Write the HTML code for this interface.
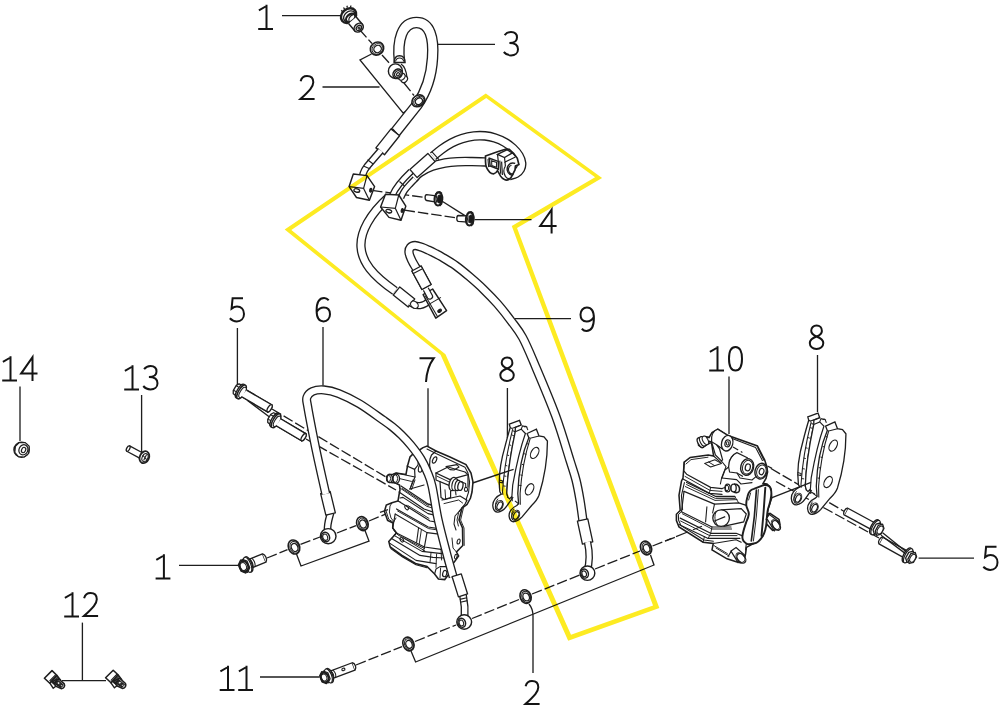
<!DOCTYPE html><html><head><meta charset="utf-8"><title>Brake hose &amp; caliper diagram</title>
<style>html,body{margin:0;padding:0;background:#fff;font-family:"Liberation Sans",sans-serif}svg{display:block}</style></head><body>
<svg width="1000" height="709" viewBox="0 0 1000 709">
<rect width="1000" height="709" fill="#fff"/>
<path d="M359.5,29.5 L372,43.5" fill="none" stroke="#1e1e1e" stroke-width="1.32" stroke-dasharray="10.5 3" />
<path d="M382,55 L391,65" fill="none" stroke="#1e1e1e" stroke-width="1.32" stroke-dasharray="10.5 3" />
<path d="M404,83 L414,95.5" fill="none" stroke="#1e1e1e" stroke-width="1.32" stroke-dasharray="10.5 3" />
<path d="M371.5,54 L360,60 L403,113 L413.5,106.5" fill="none" stroke="#1e1e1e" stroke-width="1.32" />
<path d="M322.5,87 L379.5,87" fill="none" stroke="#1e1e1e" stroke-width="1.32" />
<path d="M282,15.6 L341,15.6" fill="none" stroke="#1e1e1e" stroke-width="1.32" />
<path d="M438,44.4 L495,44.4" fill="none" stroke="#1e1e1e" stroke-width="1.32" />
<path d="M474.6,219.6 L531.5,219.6" fill="none" stroke="#1e1e1e" stroke-width="1.32" />
<path d="M442.2,201.2 L465.7,216.1" fill="none" stroke="#1e1e1e" stroke-width="1.32" />
<path d="M372,190.4 L426,197.6" fill="none" stroke="#1e1e1e" stroke-width="1.32" stroke-dasharray="10.5 3" />
<path d="M404.5,210.2 L457,218" fill="none" stroke="#1e1e1e" stroke-width="1.32" stroke-dasharray="10.5 3" />
<path d="M237.4,328 L237.4,386" fill="none" stroke="#1e1e1e" stroke-width="1.32" />
<path d="M323,327 L323,385.5" fill="none" stroke="#1e1e1e" stroke-width="1.32" />
<path d="M428,388.3 L428,447" fill="none" stroke="#1e1e1e" stroke-width="1.32" />
<path d="M507.4,388 L507.4,438" fill="none" stroke="#1e1e1e" stroke-width="1.32" />
<path d="M515,318.6 L571,318.6" fill="none" stroke="#1e1e1e" stroke-width="1.32" />
<path d="M729,376.4 L729,434" fill="none" stroke="#1e1e1e" stroke-width="1.32" />
<path d="M817.5,355 L817.5,412" fill="none" stroke="#1e1e1e" stroke-width="1.32" />
<path d="M20,386.4 L20,441" fill="none" stroke="#1e1e1e" stroke-width="1.32" />
<path d="M141.6,395 L141.6,452" fill="none" stroke="#1e1e1e" stroke-width="1.32" />
<path d="M82.4,622.6 L82.4,680.6" fill="none" stroke="#1e1e1e" stroke-width="1.32" />
<path d="M62,680.6 L106,680.6" fill="none" stroke="#1e1e1e" stroke-width="1.32" />
<path d="M179,565.4 L239,565.4" fill="none" stroke="#1e1e1e" stroke-width="1.32" />
<path d="M260,677 L319.4,677" fill="none" stroke="#1e1e1e" stroke-width="1.32" />
<path d="M918.6,558.2 L974,558.2" fill="none" stroke="#1e1e1e" stroke-width="1.32" />
<path d="M529,604 C531.5,607 533,611 533,616 L533,673" fill="none" stroke="#1e1e1e" stroke-width="1.32" />
<path d="M356,665 L402,646.6" fill="none" stroke="#1e1e1e" stroke-width="1.32" stroke-dasharray="10.5 3" />
<path d="M415,641.5 L456,625" fill="none" stroke="#1e1e1e" stroke-width="1.32" stroke-dasharray="10.5 3" />
<path d="M472,618.5 L519,599.5" fill="none" stroke="#1e1e1e" stroke-width="1.32" stroke-dasharray="10.5 3" />
<path d="M532,594 L580,575" fill="none" stroke="#1e1e1e" stroke-width="1.32" stroke-dasharray="10.5 3" />
<path d="M595,569 L640,551" fill="none" stroke="#1e1e1e" stroke-width="1.32" stroke-dasharray="10.5 3" />
<path d="M652.5,546 L677,536.5" fill="none" stroke="#1e1e1e" stroke-width="1.32" stroke-dasharray="10.5 3" />
<path d="M411,651 L415.6,662 L654,565 L650.5,555" fill="none" stroke="#1e1e1e" stroke-width="1.32" />
<path d="M267,558 L287.5,549.6" fill="none" stroke="#1e1e1e" stroke-width="1.32" stroke-dasharray="10.5 3" />
<path d="M300.5,544.3 L320,537" fill="none" stroke="#1e1e1e" stroke-width="1.32" stroke-dasharray="10.5 3" />
<path d="M337,533 L356,525.6" fill="none" stroke="#1e1e1e" stroke-width="1.32" stroke-dasharray="10.5 3" />
<path d="M369,521 L389,512.6" fill="none" stroke="#1e1e1e" stroke-width="1.32" stroke-dasharray="10.5 3" />
<path d="M296.5,554 L301,566 L369,541 L365,530.5" fill="none" stroke="#1e1e1e" stroke-width="1.32" />
<path d="M272,409 L386,477" fill="none" stroke="#1e1e1e" stroke-width="1.32" stroke-dasharray="10.5 3" />
<path d="M306,439 L396,490" fill="none" stroke="#1e1e1e" stroke-width="1.32" stroke-dasharray="10.5 3" />
<path d="M247.5,400.5 L269.5,417" fill="none" stroke="#1e1e1e" stroke-width="1.32" />
<path d="M771,468.5 L844.7,511.7" fill="none" stroke="#1e1e1e" stroke-width="1.32" stroke-dasharray="10.5 3" />
<path d="M776,481.5 L879,538" fill="none" stroke="#1e1e1e" stroke-width="1.32" stroke-dasharray="10.5 3" />
<path d="M399.5,62 C397,40 402,22.5 416.5,22.5 C430,22.5 434,38 432.5,58 C431.5,76 426,92 417,105 L395.3,132.3" fill="none" stroke="#1e1e1e" stroke-width="11.52" stroke-linecap="butt" stroke-linejoin="round"/>
<path d="M399.5,62 C397,40 402,22.5 416.5,22.5 C430,22.5 434,38 432.5,58 C431.5,76 426,92 417,105 L395.3,132.3" fill="none" stroke="#fff" stroke-width="8.879999999999999" stroke-linecap="butt" stroke-linejoin="round"/>
<path d="M392.2,128.8 L398.5,135.8" fill="none" stroke="#1e1e1e" stroke-width="1.92" />
<path d="M390.99,128.88 L375.89,147.88 L384.51,154.72 L399.61,135.72 Z" fill="#fff" stroke="#1e1e1e" stroke-width="1.32" stroke-linejoin="round"/>
<path d="M380.8,150.5 L367,166.5 C363.5,171 362,175 361.8,181" fill="none" stroke="#1e1e1e" stroke-width="7.5200000000000005" stroke-linecap="butt" stroke-linejoin="round"/>
<path d="M380.8,150.5 L367,166.5 C363.5,171 362,175 361.8,181" fill="none" stroke="#fff" stroke-width="4.88" stroke-linecap="butt" stroke-linejoin="round"/>
<path d="M367.5,159.8 L373.2,164" fill="none" stroke="#1e1e1e" stroke-width="1.08" />
<path d="M364,166.2 L370.3,169" fill="none" stroke="#1e1e1e" stroke-width="1.08" />
<path d="M401.00,197.40 C401.60,196.27 403.03,192.87 404.60,190.60 C406.17,188.33 408.33,186.07 410.40,183.80 C412.47,181.53 415.90,178.13 417.00,177.00" fill="none" stroke="#1e1e1e" stroke-width="6.92" stroke-linecap="butt" stroke-linejoin="round"/>
<path d="M401.00,197.40 C401.60,196.27 403.03,192.87 404.60,190.60 C406.17,188.33 408.33,186.07 410.40,183.80 C412.47,181.53 415.90,178.13 417.00,177.00" fill="none" stroke="#fff" stroke-width="4.279999999999999" stroke-linecap="butt" stroke-linejoin="round"/>
<path d="M414.00,178.00 C415.00,177.07 417.00,174.33 420.00,172.40 C423.00,170.47 427.83,167.97 432.00,166.40 C436.17,164.83 440.75,163.78 445.00,163.00 C449.25,162.22 453.00,161.93 457.50,161.70 C462.00,161.47 467.00,161.55 472.00,161.60 C477.00,161.65 484.92,161.93 487.50,162.00" fill="none" stroke="#1e1e1e" stroke-width="9.52" stroke-linecap="butt" stroke-linejoin="round"/>
<path d="M414.00,178.00 C415.00,177.07 417.00,174.33 420.00,172.40 C423.00,170.47 427.83,167.97 432.00,166.40 C436.17,164.83 440.75,163.78 445.00,163.00 C449.25,162.22 453.00,161.93 457.50,161.70 C462.00,161.47 467.00,161.55 472.00,161.60 C477.00,161.65 484.92,161.93 487.50,162.00" fill="none" stroke="#fff" stroke-width="6.879999999999999" stroke-linecap="butt" stroke-linejoin="round"/>
<path d="M392.5,195 C395,189 400,182 411,171.5" fill="none" stroke="#1e1e1e" stroke-width="6.92" stroke-linecap="butt" stroke-linejoin="round"/>
<path d="M392.5,195 C395,189 400,182 411,171.5" fill="none" stroke="#fff" stroke-width="4.279999999999999" stroke-linecap="butt" stroke-linejoin="round"/>
<path d="M399.5,181.5 L404.5,186" fill="none" stroke="#1e1e1e" stroke-width="1.08" />
<path d="M433.00,156.30 C434.42,155.15 438.42,151.62 441.50,149.40 C444.58,147.18 448.08,144.80 451.50,143.00 C454.92,141.20 458.25,139.77 462.00,138.60 C465.75,137.43 470.17,136.45 474.00,136.00 C477.83,135.55 481.50,135.57 485.00,135.90 C488.50,136.23 491.67,136.92 495.00,138.00 C498.33,139.08 502.00,140.67 505.00,142.40 C508.00,144.13 510.67,146.20 513.00,148.40 C515.33,150.60 517.57,153.17 519.00,155.60 C520.43,158.03 521.37,160.77 521.60,163.00 C521.83,165.23 521.33,167.27 520.40,169.00 C519.47,170.73 517.90,172.30 516.00,173.40 C514.10,174.50 510.17,175.23 509.00,175.60" fill="none" stroke="#1e1e1e" stroke-width="9.620000000000001" stroke-linecap="butt" stroke-linejoin="round"/>
<path d="M433.00,156.30 C434.42,155.15 438.42,151.62 441.50,149.40 C444.58,147.18 448.08,144.80 451.50,143.00 C454.92,141.20 458.25,139.77 462.00,138.60 C465.75,137.43 470.17,136.45 474.00,136.00 C477.83,135.55 481.50,135.57 485.00,135.90 C488.50,136.23 491.67,136.92 495.00,138.00 C498.33,139.08 502.00,140.67 505.00,142.40 C508.00,144.13 510.67,146.20 513.00,148.40 C515.33,150.60 517.57,153.17 519.00,155.60 C520.43,158.03 521.37,160.77 521.60,163.00 C521.83,165.23 521.33,167.27 520.40,169.00 C519.47,170.73 517.90,172.30 516.00,173.40 C514.10,174.50 510.17,175.23 509.00,175.60" fill="none" stroke="#fff" stroke-width="6.98" stroke-linecap="butt" stroke-linejoin="round"/>
<path d="M417.15,177.61 L435.15,161.61 L427.85,153.39 L409.85,169.39 Z" fill="#fff" stroke="#1e1e1e" stroke-width="1.32" stroke-linejoin="round"/>
<path d="M431.8,151.6 L439,159.6" fill="none" stroke="#1e1e1e" stroke-width="1.08" />
<path d="M389,197 C370,214 360,232 361,247 C362,262 372,275 395,291" fill="none" stroke="#1e1e1e" stroke-width="9.32" stroke-linecap="butt" stroke-linejoin="round"/>
<path d="M389,197 C370,214 360,232 361,247 C362,262 372,275 395,291" fill="none" stroke="#fff" stroke-width="6.68" stroke-linecap="butt" stroke-linejoin="round"/>
<path d="M393.22,295.10 L408.22,307.10 L414.78,298.90 L399.78,286.90 Z" fill="#fff" stroke="#1e1e1e" stroke-width="1.32" stroke-linejoin="round"/>
<path d="M410.5,302.5 C416,307.5 424,306.5 430,300" fill="none" stroke="#1e1e1e" stroke-width="7.32" stroke-linecap="butt" stroke-linejoin="round"/>
<path d="M410.5,302.5 C416,307.5 424,306.5 430,300" fill="none" stroke="#fff" stroke-width="4.68" stroke-linecap="butt" stroke-linejoin="round"/>
<ellipse cx="414.4" cy="304.8" rx="3.2" ry="4.2" transform="rotate(-50 414.4 304.8)" fill="#fff" stroke="#1e1e1e" stroke-width="1.20"/>
<path d="M431.12,284.50 L421.12,266.00 L411.88,271.00 L421.88,289.50 Z" fill="#fff" stroke="#1e1e1e" stroke-width="1.32" stroke-linejoin="round"/>
<path d="M412.2,272.6 L421.2,267.8" fill="none" stroke="#1e1e1e" stroke-width="1.08" />
<path d="M416.80,269.20 C415.93,267.67 412.90,262.80 411.60,260.00 C410.30,257.20 409.20,254.50 409.00,252.40 C408.80,250.30 409.40,248.55 410.40,247.40 C411.40,246.25 413.15,245.53 415.00,245.50 C416.85,245.47 419.27,246.43 421.50,247.20 C423.73,247.97 426.15,249.08 428.40,250.10 C430.65,251.12 432.75,252.15 435.00,253.30 C437.25,254.45 438.45,254.95 441.90,257.00 C445.35,259.05 451.08,262.30 455.70,265.60 C460.32,268.90 464.97,272.85 469.60,276.80 C474.23,280.75 478.87,284.80 483.50,289.30 C488.13,293.80 492.77,298.48 497.40,303.80 C502.03,309.12 507.12,315.60 511.30,321.20 C515.48,326.80 518.67,330.35 522.50,337.40 C526.33,344.45 528.77,350.42 534.30,363.50 C539.83,376.58 549.72,399.63 555.70,415.90 C561.68,432.17 566.82,450.42 570.20,461.10 C573.58,471.78 574.37,473.52 576.00,480.00 C577.63,486.48 578.83,493.17 580.00,500.00 C581.17,506.83 582.50,517.50 583.00,521.00" fill="none" stroke="#1e1e1e" stroke-width="9.32" stroke-linecap="butt" stroke-linejoin="round"/>
<path d="M416.80,269.20 C415.93,267.67 412.90,262.80 411.60,260.00 C410.30,257.20 409.20,254.50 409.00,252.40 C408.80,250.30 409.40,248.55 410.40,247.40 C411.40,246.25 413.15,245.53 415.00,245.50 C416.85,245.47 419.27,246.43 421.50,247.20 C423.73,247.97 426.15,249.08 428.40,250.10 C430.65,251.12 432.75,252.15 435.00,253.30 C437.25,254.45 438.45,254.95 441.90,257.00 C445.35,259.05 451.08,262.30 455.70,265.60 C460.32,268.90 464.97,272.85 469.60,276.80 C474.23,280.75 478.87,284.80 483.50,289.30 C488.13,293.80 492.77,298.48 497.40,303.80 C502.03,309.12 507.12,315.60 511.30,321.20 C515.48,326.80 518.67,330.35 522.50,337.40 C526.33,344.45 528.77,350.42 534.30,363.50 C539.83,376.58 549.72,399.63 555.70,415.90 C561.68,432.17 566.82,450.42 570.20,461.10 C573.58,471.78 574.37,473.52 576.00,480.00 C577.63,486.48 578.83,493.17 580.00,500.00 C581.17,506.83 582.50,517.50 583.00,521.00" fill="none" stroke="#fff" stroke-width="6.68" stroke-linecap="butt" stroke-linejoin="round"/>
<path d="M577.42,521.13 L582.42,544.13 L592.78,541.87 L587.78,518.87 Z" fill="#fff" stroke="#1e1e1e" stroke-width="1.32" stroke-linejoin="round"/>
<path d="M587.5,542 C590,553 590,562 587,572" fill="none" stroke="#1e1e1e" stroke-width="7.5200000000000005" stroke-linecap="butt" stroke-linejoin="round"/>
<path d="M587.5,542 C590,553 590,562 587,572" fill="none" stroke="#fff" stroke-width="4.88" stroke-linecap="butt" stroke-linejoin="round"/>
<path d="M423,447.6 L427,446 L436,451 L450,457 L466,464.5 L471,473 L473,482 L472,492 L470.5,498 L467,504.5 L462,508 L459,520 L462.5,528 L462.8,545.5 L456.5,552 L458.6,556 L455,561 L449.5,568 L449,574 L444.7,579.6 L438.4,579 L434.6,574 L427,566.5 L415.5,563.5 L402,555.5 L390.2,547 L388.8,541.5 L396.5,533 L392.7,528 L393,523 L387.6,520.4 L384.4,511.5 L386.3,505 L392,502.8 L398,501 L399,495 L400,490 L399.5,485 L396,483.2 L393,482.6 L389,482.2 L386.8,480 L386.6,476.6 L389,474.4 L393,474.2 L396,473 L406,474.4 L407.5,466 L410,457 L413.5,453.4 L418,451 Z" fill="#fff" stroke="#1e1e1e" stroke-width="1.56" />
<path d="M427,449 L436,453.6 L465,467.2 L468,473 L469.6,482 L468.6,492 L466,500" fill="none" stroke="#1e1e1e" stroke-width="1.08" stroke-linejoin="round" stroke-linecap="round"/>
<path d="M436,451 L431.5,455 L430,459 L429.6,465 L430.4,470" fill="none" stroke="#1e1e1e" stroke-width="1.20" stroke-linejoin="round" stroke-linecap="round"/>
<ellipse cx="434.6" cy="460" rx="1.8" ry="3.4" transform="rotate(25 434.6 460)" fill="none" stroke="#1e1e1e" stroke-width="1.20"/>
<path d="M436,473 L448,467 L465,472 L468,474.6 L468,487" fill="none" stroke="#1e1e1e" stroke-width="1.20" stroke-linejoin="round" stroke-linecap="round"/>
<path d="M436,473 L450,479.6 L468,474.6" fill="none" stroke="#1e1e1e" stroke-width="1.20" stroke-linejoin="round" stroke-linecap="round"/>
<path d="M436,473 L436,480 L449,485.4" fill="none" stroke="#1e1e1e" stroke-width="1.20" stroke-linejoin="round" stroke-linecap="round"/>
<path d="M437,476.2 L450,482.4" fill="none" stroke="#1e1e1e" stroke-width="0.96" stroke-linejoin="round" stroke-linecap="round"/>
<path d="M446,466.6 L457,464.6 L459,467 L454,470 L450,469.6 Z" fill="none" stroke="#1e1e1e" stroke-width="1.08" stroke-linejoin="round" stroke-linecap="round"/>
<ellipse cx="452.8" cy="484" rx="3.6" ry="6.8" transform="rotate(12 452.8 484)" fill="#fff" stroke="#1e1e1e" stroke-width="1.32"/>
<ellipse cx="455.2" cy="484.8" rx="3.2" ry="6.0" transform="rotate(12 455.2 484.8)" fill="#fff" stroke="#1e1e1e" stroke-width="1.20"/>
<ellipse cx="457.8" cy="485.5" rx="2.8" ry="5.2" transform="rotate(12 457.8 485.5)" fill="#fff" stroke="#1e1e1e" stroke-width="1.20"/>
<ellipse cx="460.4" cy="486" rx="2.5" ry="4.5" transform="rotate(12 460.4 486)" fill="#fff" stroke="#1e1e1e" stroke-width="1.32"/>
<path d="M461.5,482 L465.6,483.4 L465.8,487.4" fill="none" stroke="#1e1e1e" stroke-width="1.08" stroke-linejoin="round" stroke-linecap="round"/>
<ellipse cx="466" cy="489.4" rx="1.6" ry="2.0" transform="rotate(0 466 489.4)" fill="none" stroke="#1e1e1e" stroke-width="1.08"/>
<path d="M440,481.6 L441,497.4 L444,499.6 L450.6,497.6 L450.6,491" fill="none" stroke="#1e1e1e" stroke-width="1.20" stroke-linejoin="round" stroke-linecap="round"/>
<path d="M445,489.8 L445.6,498.6" fill="none" stroke="#1e1e1e" stroke-width="0.96" stroke-linejoin="round" stroke-linecap="round"/>
<path d="M455.6,491.6 L456,495" fill="none" stroke="#1e1e1e" stroke-width="1.08" stroke-linejoin="round" stroke-linecap="round"/>
<path d="M442,500 L460,496 L467,500.2 L465,504 L459.4,511" fill="none" stroke="#1e1e1e" stroke-width="1.20" stroke-linejoin="round" stroke-linecap="round"/>
<path d="M444,503.6 L458.6,500 L462.6,503" fill="none" stroke="#1e1e1e" stroke-width="0.96" stroke-linejoin="round" stroke-linecap="round"/>
<path d="M459.4,511 L455,516 L454,524 L456,530" fill="none" stroke="#1e1e1e" stroke-width="1.08" stroke-linejoin="round" stroke-linecap="round"/>
<path d="M462,508 L458.6,512.6 L457,520 L458.4,526" fill="none" stroke="#1e1e1e" stroke-width="0.96" stroke-linejoin="round" stroke-linecap="round"/>
<ellipse cx="458.6" cy="541.5" rx="1.4" ry="2.6" transform="rotate(15 458.6 541.5)" fill="none" stroke="#1e1e1e" stroke-width="1.08"/>
<path d="M456.5,552 L453,548 L452,538" fill="none" stroke="#1e1e1e" stroke-width="0.96" stroke-linejoin="round" stroke-linecap="round"/>
<ellipse cx="455.8" cy="556.6" rx="1.2" ry="2.4" transform="rotate(15 455.8 556.6)" fill="none" stroke="#1e1e1e" stroke-width="1.08"/>
<path d="M407,466 L414.6,469.4 L418,465 L418.6,458.6 L416.4,454.6" fill="none" stroke="#1e1e1e" stroke-width="1.20" stroke-linejoin="round" stroke-linecap="round"/>
<path d="M414.6,469.4 L415,477 L410,489" fill="none" stroke="#1e1e1e" stroke-width="1.20" stroke-linejoin="round" stroke-linecap="round"/>
<ellipse cx="420.4" cy="468.6" rx="2.0" ry="3.6" transform="rotate(10 420.4 468.6)" fill="none" stroke="#1e1e1e" stroke-width="1.08"/>
<path d="M396,473 L415,477" fill="none" stroke="#1e1e1e" stroke-width="1.20" stroke-linejoin="round" stroke-linecap="round"/>
<path d="M399.6,478.6 L411.4,481.4" fill="none" stroke="#1e1e1e" stroke-width="0.96" stroke-linejoin="round" stroke-linecap="round"/>
<path d="M410,489 L424,485" fill="none" stroke="#1e1e1e" stroke-width="1.20" stroke-linejoin="round" stroke-linecap="round"/>
<path d="M410,489 L413.2,479.6" fill="none" stroke="#1e1e1e" stroke-width="0.96" stroke-linejoin="round" stroke-linecap="round"/>
<path d="M411.6,489.6 L415,480" fill="none" stroke="#1e1e1e" stroke-width="0.96" stroke-linejoin="round" stroke-linecap="round"/>
<ellipse cx="396.2" cy="478.6" rx="3.3" ry="4.6" transform="rotate(0 396.2 478.6)" fill="#fff" stroke="#1e1e1e" stroke-width="1.32"/>
<ellipse cx="395.2" cy="478.6" rx="2.4" ry="3.8" transform="rotate(0 395.2 478.6)" fill="none" stroke="#1e1e1e" stroke-width="0.96"/>
<ellipse cx="389.6" cy="478.5" rx="2.8" ry="4.0" transform="rotate(0 389.6 478.5)" fill="#fff" stroke="#1e1e1e" stroke-width="1.32"/>
<ellipse cx="388.8" cy="478.5" rx="1.8" ry="3.0" transform="rotate(0 388.8 478.5)" fill="none" stroke="#1e1e1e" stroke-width="0.96"/>
<path d="M401,486 L428,504 L436,506.5" fill="none" stroke="#1e1e1e" stroke-width="1.32" stroke-linejoin="round" stroke-linecap="round"/>
<path d="M400.6,488.4 L427,506.4 L436,509" fill="none" stroke="#1e1e1e" stroke-width="0.96" stroke-linejoin="round" stroke-linecap="round"/>
<path d="M399,492 L424,509 L434,512.4" fill="none" stroke="#1e1e1e" stroke-width="1.20" stroke-linejoin="round" stroke-linecap="round"/>
<path d="M400,498 L403,497.4 L428,513.6 L437,515.6" fill="none" stroke="#1e1e1e" stroke-width="1.08" stroke-linejoin="round" stroke-linecap="round"/>
<path d="M398,501 L400.6,502.4 L430,521 L438,522.4" fill="none" stroke="#1e1e1e" stroke-width="1.20" stroke-linejoin="round" stroke-linecap="round"/>
<path d="M396.5,509 L428.2,527 L440,528.8" fill="none" stroke="#1e1e1e" stroke-width="1.20" stroke-linejoin="round" stroke-linecap="round"/>
<path d="M395.2,514 L427,532.6 L441,534.4" fill="none" stroke="#1e1e1e" stroke-width="1.08" stroke-linejoin="round" stroke-linecap="round"/>
<ellipse cx="406.6" cy="507.6" rx="1.5" ry="2.4" transform="rotate(-30 406.6 507.6)" fill="none" stroke="#1e1e1e" stroke-width="1.08"/>
<path d="M408,505.6 L429,518.4" fill="none" stroke="#1e1e1e" stroke-width="0.96" stroke-linejoin="round" stroke-linecap="round"/>
<path d="M395.2,514 L392.7,528" fill="none" stroke="#1e1e1e" stroke-width="1.20" stroke-linejoin="round" stroke-linecap="round"/>
<path d="M418.6,527.6 L416.6,542.4" fill="none" stroke="#1e1e1e" stroke-width="1.08" stroke-linejoin="round" stroke-linecap="round"/>
<path d="M427,532.6 L424.4,547" fill="none" stroke="#1e1e1e" stroke-width="1.20" stroke-linejoin="round" stroke-linecap="round"/>
<path d="M421.4,529.4 L419.2,544" fill="none" stroke="#1e1e1e" stroke-width="0.96" stroke-linejoin="round" stroke-linecap="round"/>
<path d="M393,523 L396,518" fill="none" stroke="#1e1e1e" stroke-width="0.96" stroke-linejoin="round" stroke-linecap="round"/>
<path d="M392.7,528 L396.5,533 L424.4,547 L441,549.4" fill="none" stroke="#1e1e1e" stroke-width="1.20" stroke-linejoin="round" stroke-linecap="round"/>
<path d="M396.5,533 L394,535.4 L422,551.4 L442,553.6" fill="none" stroke="#1e1e1e" stroke-width="1.08" stroke-linejoin="round" stroke-linecap="round"/>
<path d="M391.6,538.4 L420,555.4 L433,557.4 L444,558" fill="none" stroke="#1e1e1e" stroke-width="1.20" stroke-linejoin="round" stroke-linecap="round"/>
<path d="M390,543.4 L416,560.4 L436,563.6" fill="none" stroke="#1e1e1e" stroke-width="1.08" stroke-linejoin="round" stroke-linecap="round"/>
<ellipse cx="401.8" cy="539.8" rx="1.5" ry="2.4" transform="rotate(-30 401.8 539.8)" fill="none" stroke="#1e1e1e" stroke-width="1.08"/>
<path d="M403.4,538 L425,551" fill="none" stroke="#1e1e1e" stroke-width="0.96" stroke-linejoin="round" stroke-linecap="round"/>
<path d="M431,553 L430,562.4" fill="none" stroke="#1e1e1e" stroke-width="0.96" stroke-linejoin="round" stroke-linecap="round"/>
<path d="M424.4,547 L423.4,551.6" fill="none" stroke="#1e1e1e" stroke-width="0.96" stroke-linejoin="round" stroke-linecap="round"/>
<path d="M436.6,554 L436,567.4" fill="none" stroke="#1e1e1e" stroke-width="0.96" stroke-linejoin="round" stroke-linecap="round"/>
<path d="M441,549.4 L441.6,560" fill="none" stroke="#1e1e1e" stroke-width="0.96" stroke-linejoin="round" stroke-linecap="round"/>
<path d="M434.6,574 L436,569 L440,566.6 L446,566.6 L449.5,568" fill="none" stroke="#1e1e1e" stroke-width="1.08" stroke-linejoin="round" stroke-linecap="round"/>
<ellipse cx="444.7" cy="573.6" rx="2.0" ry="3.2" transform="rotate(15 444.7 573.6)" fill="none" stroke="#1e1e1e" stroke-width="1.20"/>
<path d="M440.6,568 L440,577.6" fill="none" stroke="#1e1e1e" stroke-width="0.96" stroke-linejoin="round" stroke-linecap="round"/>
<path d="M392,502.8 L390,506 L389.4,512 L391,518 L393.4,521" fill="none" stroke="#1e1e1e" stroke-width="0.96" stroke-linejoin="round" stroke-linecap="round"/>
<path d="M380,512.4 L388,509.6" fill="none" stroke="#1e1e1e" stroke-width="1.20" />
<g transform="translate(0,0)">
<path d="M807.8,416.8 L818,413.1 L819.7,417.7 L813.8,420.2 L813.8,424.5 C809.6,444 806,466 805.3,486.2 L806.4,490 L811.1,490.5 L805.4,498.6 C803,502 800,504.4 796.6,504.8 C794,505.2 791.6,503 791.3,498.4 C791,493.6 795,489 799.8,486.9 L798.4,484.5 C797,474 798.6,456 803.6,438.8 C805.4,431.6 807.2,425.6 808.7,420.2 Z" fill="#fff" stroke="#1e1e1e" stroke-width="1.32" />
<path d="M808.7,420.2 L810.4,421.1 L819.7,417.7 M811.2,421.9 C806.6,440 802.4,462 801,484.5 L801.4,487.6 M813.8,424.5 L811.6,423.4" fill="none" stroke="#1e1e1e" stroke-width="1.08" />
<path d="M810.2,427.6 l2.2,0.8 M807.6,437.4 l2.2,0.8 M805.4,447.6 l2.2,0.7 M803.6,458 l2.2,0.6 M802.4,468.6 l2.4,0.4 M801.6,478.6 l2.6,0.3" fill="none" stroke="#1e1e1e" stroke-width="0.96" />
<path d="M797.6,472.6 l3.6,1 l-0.3,2 l-3.5,-0.8" fill="none" stroke="#1e1e1e" stroke-width="1.08" />
<path d="M796.6,491.4 C793.8,494.6 793.2,499.2 795,502.8" fill="none" stroke="#1e1e1e" stroke-width="0.96" />
<ellipse cx="798.2" cy="498.4" rx="2.4" ry="4.0" transform="rotate(25 798.2 498.4)" fill="#fff" stroke="#1e1e1e" stroke-width="1.20"/>
<ellipse cx="797.8" cy="498.2" rx="3.6" ry="5.3" transform="rotate(25 797.8 498.2)" fill="none" stroke="#1e1e1e" stroke-width="0.96"/>
<path d="M813.8,424.5 L819.7,421.9 L823.9,426.2 C819,440 814.4,460 811.2,477.8 L810.4,489 L808,491.6 L806.4,490 L805.3,486.2 C806,466 809.6,444 813.8,424.5 Z" fill="#fff" stroke="#1e1e1e" stroke-width="1.20" />
<path d="M819.7,421.9 L821,418.6 L825,419.4 L826.4,422.8 M822.6,419.8 q1.8,-1.8 3.2,0.4" fill="none" stroke="#1e1e1e" stroke-width="1.08" />
<path d="M825.6,426.2 L834.9,421.9 L837.5,428.7 L842.5,429.5 L845.9,433.8 C846,452 843,470 837.5,487.9 C836,492 833.4,495 830.1,498.2 L820.6,509.6 C818,512.4 815.6,514 812.6,514.4 C810,514.8 808,512.8 807.6,508.8 C807.4,504.6 810.6,500.6 815.3,498.2 L817.1,496.4 L816.3,486.2 C817,466 820.6,446 827.3,430.4 Z" fill="#fff" stroke="#1e1e1e" stroke-width="1.32" />
<path d="M827.3,430.4 L828.7,431 L837.5,428.7 M828.7,431 C823.6,447 820,466 818.6,486.2 L818.8,497.4" fill="none" stroke="#1e1e1e" stroke-width="1.08" />
<path d="M825.6,436.4 l2,0.7 M822.6,446.4 l2.2,0.7 M820.4,457 l2.2,0.6 M818.8,467.6 l2.2,0.5 M817.6,478 l2.4,0.3" fill="none" stroke="#1e1e1e" stroke-width="0.96" />
<ellipse cx="833.2" cy="445.6" rx="3.6" ry="6.0" transform="rotate(28 833.2 445.6)" fill="none" stroke="#1e1e1e" stroke-width="1.20"/>
<ellipse cx="828.1" cy="482" rx="3.6" ry="6.0" transform="rotate(28 828.1 482)" fill="none" stroke="#1e1e1e" stroke-width="1.20"/>
<path d="M812.6,501.6 C810,504.6 809.4,509 811.2,512.6" fill="none" stroke="#1e1e1e" stroke-width="0.96" />
<ellipse cx="814.6" cy="508.2" rx="2.5" ry="4.0" transform="rotate(25 814.6 508.2)" fill="#fff" stroke="#1e1e1e" stroke-width="1.20"/>
<ellipse cx="814.2" cy="508" rx="3.7" ry="5.3" transform="rotate(25 814.2 508)" fill="none" stroke="#1e1e1e" stroke-width="0.96"/>
<path d="M810.4,489 L810.8,494 M813.4,493.6 L817.1,496.4" fill="none" stroke="#1e1e1e" stroke-width="1.08" />
</g>
<g transform="translate(-298.5,7.3)">
<path d="M807.8,416.8 L818,413.1 L819.7,417.7 L813.8,420.2 L813.8,424.5 C809.6,444 806,466 805.3,486.2 L806.4,490 L811.1,490.5 L805.4,498.6 C803,502 800,504.4 796.6,504.8 C794,505.2 791.6,503 791.3,498.4 C791,493.6 795,489 799.8,486.9 L798.4,484.5 C797,474 798.6,456 803.6,438.8 C805.4,431.6 807.2,425.6 808.7,420.2 Z" fill="#fff" stroke="#1e1e1e" stroke-width="1.32" />
<path d="M808.7,420.2 L810.4,421.1 L819.7,417.7 M811.2,421.9 C806.6,440 802.4,462 801,484.5 L801.4,487.6 M813.8,424.5 L811.6,423.4" fill="none" stroke="#1e1e1e" stroke-width="1.08" />
<path d="M810.2,427.6 l2.2,0.8 M807.6,437.4 l2.2,0.8 M805.4,447.6 l2.2,0.7 M803.6,458 l2.2,0.6 M802.4,468.6 l2.4,0.4 M801.6,478.6 l2.6,0.3" fill="none" stroke="#1e1e1e" stroke-width="0.96" />
<path d="M797.6,472.6 l3.6,1 l-0.3,2 l-3.5,-0.8" fill="none" stroke="#1e1e1e" stroke-width="1.08" />
<path d="M796.6,491.4 C793.8,494.6 793.2,499.2 795,502.8" fill="none" stroke="#1e1e1e" stroke-width="0.96" />
<ellipse cx="798.2" cy="498.4" rx="2.4" ry="4.0" transform="rotate(25 798.2 498.4)" fill="#fff" stroke="#1e1e1e" stroke-width="1.20"/>
<ellipse cx="797.8" cy="498.2" rx="3.6" ry="5.3" transform="rotate(25 797.8 498.2)" fill="none" stroke="#1e1e1e" stroke-width="0.96"/>
<path d="M813.8,424.5 L819.7,421.9 L823.9,426.2 C819,440 814.4,460 811.2,477.8 L810.4,489 L808,491.6 L806.4,490 L805.3,486.2 C806,466 809.6,444 813.8,424.5 Z" fill="#fff" stroke="#1e1e1e" stroke-width="1.20" />
<path d="M819.7,421.9 L821,418.6 L825,419.4 L826.4,422.8 M822.6,419.8 q1.8,-1.8 3.2,0.4" fill="none" stroke="#1e1e1e" stroke-width="1.08" />
<path d="M825.6,426.2 L834.9,421.9 L837.5,428.7 L842.5,429.5 L845.9,433.8 C846,452 843,470 837.5,487.9 C836,492 833.4,495 830.1,498.2 L820.6,509.6 C818,512.4 815.6,514 812.6,514.4 C810,514.8 808,512.8 807.6,508.8 C807.4,504.6 810.6,500.6 815.3,498.2 L817.1,496.4 L816.3,486.2 C817,466 820.6,446 827.3,430.4 Z" fill="#fff" stroke="#1e1e1e" stroke-width="1.32" />
<path d="M827.3,430.4 L828.7,431 L837.5,428.7 M828.7,431 C823.6,447 820,466 818.6,486.2 L818.8,497.4" fill="none" stroke="#1e1e1e" stroke-width="1.08" />
<path d="M825.6,436.4 l2,0.7 M822.6,446.4 l2.2,0.7 M820.4,457 l2.2,0.6 M818.8,467.6 l2.2,0.5 M817.6,478 l2.4,0.3" fill="none" stroke="#1e1e1e" stroke-width="0.96" />
<ellipse cx="833.2" cy="445.6" rx="3.6" ry="6.0" transform="rotate(28 833.2 445.6)" fill="none" stroke="#1e1e1e" stroke-width="1.20"/>
<ellipse cx="828.1" cy="482" rx="3.6" ry="6.0" transform="rotate(28 828.1 482)" fill="none" stroke="#1e1e1e" stroke-width="1.20"/>
<path d="M812.6,501.6 C810,504.6 809.4,509 811.2,512.6" fill="none" stroke="#1e1e1e" stroke-width="0.96" />
<ellipse cx="814.6" cy="508.2" rx="2.5" ry="4.0" transform="rotate(25 814.6 508.2)" fill="#fff" stroke="#1e1e1e" stroke-width="1.20"/>
<ellipse cx="814.2" cy="508" rx="3.7" ry="5.3" transform="rotate(25 814.2 508)" fill="none" stroke="#1e1e1e" stroke-width="0.96"/>
<path d="M810.4,489 L810.8,494 M813.4,493.6 L817.1,496.4" fill="none" stroke="#1e1e1e" stroke-width="1.08" />
</g>
<path d="M684.2,462.2 L690.2,457.4 L708.2,455 L713.6,456 L711.4,442 L709.6,441.4 L706,445 L702,447.6 L698.6,445.4 L698.4,440 L701,437 L705.4,436.6 L709,437.6 L712,432.6 L717.8,429.2 L727.4,435.2 L757.4,446 L764.6,459.8 L766.6,466 L767.6,472 L766,478.4 L763,483.6 L767,484 L770.8,488.6 L771.7,497.8 L768,509 L767.2,514 L770,513.4 L779,519.4 L780,524.4 L777,529.4 L772.6,530.4 L766,523.4 L762.8,535.9 L757,541.6 L746.4,547.4 L745.6,553.6 L744.4,559.6 L741,563 L737,562 L727,558.8 L712,549.8 L713.3,543.5 L703.1,542.2 L679,527 L676.4,520.6 L676.4,514.3 L680.2,510.5 L679,495.2 L681.5,481 L683,478 L683.6,470.6 Z" fill="#fff" stroke="#1e1e1e" stroke-width="1.56" />
<ellipse cx="700.8" cy="442.6" rx="2.8" ry="5.4" transform="rotate(-28 700.8 442.6)" fill="#fff" stroke="#1e1e1e" stroke-width="1.32"/>
<ellipse cx="703" cy="441.4" rx="2.8" ry="5.2" transform="rotate(-28 703 441.4)" fill="#fff" stroke="#1e1e1e" stroke-width="1.08"/>
<path d="M702,436.6 L709,437.4" fill="none" stroke="#1e1e1e" stroke-width="1.08" stroke-linejoin="round" stroke-linecap="round"/>
<path d="M704.6,446 L711.6,442.6" fill="none" stroke="#1e1e1e" stroke-width="1.08" stroke-linejoin="round" stroke-linecap="round"/>
<ellipse cx="705.4" cy="440.4" rx="2.6" ry="4.6" transform="rotate(-28 705.4 440.4)" fill="#fff" stroke="#1e1e1e" stroke-width="1.08"/>
<path d="M727.4,435.2 L717.8,429.2 C713.4,430.6 711,435.4 711.6,441.8 L715.4,455 L721.4,461 L722.6,459.8 L719.6,449 L716.6,444.8 L725,450.8" fill="#fff" stroke="#1e1e1e" stroke-width="1.20" />
<ellipse cx="727.2" cy="443.2" rx="5.6" ry="7.9" transform="rotate(15 727.2 443.2)" fill="#fff" stroke="#1e1e1e" stroke-width="1.32"/>
<ellipse cx="727.6" cy="443.4" rx="2.6" ry="3.5" transform="rotate(15 727.6 443.4)" fill="none" stroke="#1e1e1e" stroke-width="1.20"/>
<ellipse cx="727.6" cy="443.4" rx="1.2" ry="1.8" transform="rotate(15 727.6 443.4)" fill="none" stroke="#1e1e1e" stroke-width="0.96"/>
<path d="M711.6,441.8 L716.6,444.8" fill="none" stroke="#1e1e1e" stroke-width="1.08" stroke-linejoin="round" stroke-linecap="round"/>
<path d="M713.6,456 L721,462.6" fill="none" stroke="#1e1e1e" stroke-width="1.08" stroke-linejoin="round" stroke-linecap="round"/>
<path d="M732.2,438.4 L755.6,447.4 L762.4,460.4" fill="none" stroke="#1e1e1e" stroke-width="1.08" stroke-linejoin="round" stroke-linecap="round"/>
<path d="M747.8,458 L737,452.6 C732,454.6 728.8,460 728.6,467 L729.6,472 L737,473 L743,476.6" fill="#fff" stroke="#1e1e1e" stroke-width="1.20" />
<ellipse cx="761" cy="471.2" rx="5.9" ry="8.0" transform="rotate(15 761 471.2)" fill="#fff" stroke="#1e1e1e" stroke-width="1.44"/>
<ellipse cx="761.4" cy="471.4" rx="4.6" ry="6.6" transform="rotate(15 761.4 471.4)" fill="none" stroke="#1e1e1e" stroke-width="0.96"/>
<ellipse cx="761.6" cy="471.6" rx="2.3" ry="3.2" transform="rotate(15 761.6 471.6)" fill="none" stroke="#1e1e1e" stroke-width="1.20"/>
<ellipse cx="747.2" cy="467" rx="6.4" ry="8.4" transform="rotate(15 747.2 467)" fill="#fff" stroke="#1e1e1e" stroke-width="1.44"/>
<ellipse cx="747.6" cy="467.2" rx="5.0" ry="7.0" transform="rotate(15 747.6 467.2)" fill="none" stroke="#1e1e1e" stroke-width="0.96"/>
<ellipse cx="747.8" cy="467.4" rx="2.5" ry="3.5" transform="rotate(15 747.8 467.4)" fill="none" stroke="#1e1e1e" stroke-width="1.20"/>
<path d="M728.6,467 L725,470 L722,478" fill="none" stroke="#1e1e1e" stroke-width="1.08" stroke-linejoin="round" stroke-linecap="round"/>
<path d="M733,455.4 L729.4,460.4" fill="none" stroke="#1e1e1e" stroke-width="0.96" stroke-linejoin="round" stroke-linecap="round"/>
<path d="M737,473 L740,478 L752,480 L756,476.6" fill="none" stroke="#1e1e1e" stroke-width="1.08" stroke-linejoin="round" stroke-linecap="round"/>
<path d="M733,447 L742.4,452.4" fill="none" stroke="#1e1e1e" stroke-width="1.20" stroke-dasharray="6 3" />
<path d="M767.5,466 L772,468.4" fill="none" stroke="#1e1e1e" stroke-width="1.20" />
<path d="M684.2,462.2 L683.6,470.6 L686.6,474.2 L710.6,487.4 L722,488.6" fill="none" stroke="#1e1e1e" stroke-width="1.20" stroke-linejoin="round" stroke-linecap="round"/>
<path d="M704.6,463.4 L714.8,459.8 L721.4,463.4 L710.6,467 Z" fill="none" stroke="#1e1e1e" stroke-width="1.08" stroke-linejoin="round" stroke-linecap="round"/>
<path d="M708.6,462 L714.6,465.6" fill="none" stroke="#1e1e1e" stroke-width="0.96" stroke-linejoin="round" stroke-linecap="round"/>
<path d="M721.4,461 L726,466.6 L721.6,478 L720.4,484" fill="none" stroke="#1e1e1e" stroke-width="1.08" stroke-linejoin="round" stroke-linecap="round"/>
<path d="M683,479 L709.4,493.4 L722,494.4" fill="none" stroke="#1e1e1e" stroke-width="1.20" stroke-linejoin="round" stroke-linecap="round"/>
<path d="M685,476.4 L710,490.4 L722,491.4" fill="none" stroke="#1e1e1e" stroke-width="0.96" stroke-linejoin="round" stroke-linecap="round"/>
<path d="M710.6,487.4 L709.4,493.4" fill="none" stroke="#1e1e1e" stroke-width="0.96" stroke-linejoin="round" stroke-linecap="round"/>
<ellipse cx="733.6" cy="488" rx="2.6" ry="3.9" transform="rotate(0 733.6 488)" fill="#fff" stroke="#1e1e1e" stroke-width="1.32"/>
<ellipse cx="727.6" cy="488" rx="2.6" ry="3.9" transform="rotate(0 727.6 488)" fill="#fff" stroke="#1e1e1e" stroke-width="1.32"/>
<ellipse cx="727" cy="488" rx="1.6" ry="2.8" transform="rotate(0 727 488)" fill="none" stroke="#1e1e1e" stroke-width="0.96"/>
<path d="M734,484 C738.6,484 740,487 739.4,490.6 C738.8,493 736,493 733.6,492" fill="none" stroke="#1e1e1e" stroke-width="1.56" />
<path d="M722,488.6 L725,487.4" fill="none" stroke="#1e1e1e" stroke-width="1.08" stroke-linejoin="round" stroke-linecap="round"/>
<path d="M686.6,482.5 L715.8,496.5 L734.8,496.5" fill="none" stroke="#1e1e1e" stroke-width="1.32" stroke-linejoin="round" stroke-linecap="round"/>
<path d="M685.4,486.6 L715,500.4 L737,499.6" fill="none" stroke="#1e1e1e" stroke-width="0.96" stroke-linejoin="round" stroke-linecap="round"/>
<path d="M684,491.4 L714.5,504.1 L738.7,502.9 L746.3,505.4" fill="none" stroke="#1e1e1e" stroke-width="1.20" stroke-linejoin="round" stroke-linecap="round"/>
<path d="M684,491.4 L681.5,511.7" fill="none" stroke="#1e1e1e" stroke-width="1.20" stroke-linejoin="round" stroke-linecap="round"/>
<path d="M706.9,506.7 L705.6,521.9" fill="none" stroke="#1e1e1e" stroke-width="1.08" stroke-linejoin="round" stroke-linecap="round"/>
<path d="M714.5,504.1 L712.6,513" fill="none" stroke="#1e1e1e" stroke-width="1.08" stroke-linejoin="round" stroke-linecap="round"/>
<path d="M681.5,511.7 L712,527 L731,527" fill="none" stroke="#1e1e1e" stroke-width="1.20" stroke-linejoin="round" stroke-linecap="round"/>
<path d="M680.2,518.1 L710.7,533.3 L736.1,533.3 L742.5,535.9" fill="none" stroke="#1e1e1e" stroke-width="1.20" stroke-linejoin="round" stroke-linecap="round"/>
<path d="M678.4,514.6 L681.5,511.7" fill="none" stroke="#1e1e1e" stroke-width="0.96" stroke-linejoin="round" stroke-linecap="round"/>
<path d="M679,524.4 L708.2,538.4 L739.9,538.4" fill="none" stroke="#1e1e1e" stroke-width="1.08" stroke-linejoin="round" stroke-linecap="round"/>
<path d="M703.1,542.2 L704.4,536.6" fill="none" stroke="#1e1e1e" stroke-width="0.96" stroke-linejoin="round" stroke-linecap="round"/>
<path d="M712,527 L710.7,533.3 L708.2,538.4" fill="none" stroke="#1e1e1e" stroke-width="0.96" stroke-linejoin="round" stroke-linecap="round"/>
<path d="M734.8,496.5 L738.7,502.9" fill="none" stroke="#1e1e1e" stroke-width="0.96" stroke-linejoin="round" stroke-linecap="round"/>
<path d="M720.9,509.8 L741.2,508.6 L746.3,514 L743.7,521.9 L723.4,526.3" fill="#fff" stroke="#1e1e1e" stroke-width="1.20" />
<ellipse cx="721.1" cy="518.1" rx="8.3" ry="8.3" transform="rotate(0 721.1 518.1)" fill="#fff" stroke="#1e1e1e" stroke-width="1.32"/>
<path d="M716.4,511.4 C714,515.4 714.6,521.6 717.6,525.4" fill="none" stroke="#1e1e1e" stroke-width="0.96" />
<path d="M665,541 L671.6,538.4" fill="none" stroke="#1e1e1e" stroke-width="1.20" />
<path d="M676,536.6 L687.6,532" fill="none" stroke="#1e1e1e" stroke-width="1.20" />
<path d="M693,529.8 L702,526.2" fill="none" stroke="#1e1e1e" stroke-width="1.20" />
<path d="M714,521.2 L725.2,516.6" fill="none" stroke="#1e1e1e" stroke-width="1.20" />
<path d="M747.5,496.5 C748.6,491 751,489.6 753.9,488.9 L764,485 C768,484.6 770.4,486.4 770.8,489.4 C772.4,493.6 771.4,498.6 768,509 C767,513.6 766.8,518 766.6,521.9 C766,528.6 764.6,533 762.8,535.9 C760,540.6 757,543 753.9,543.5 C750.6,544.4 747.6,544.6 746.3,543.5 C743,541.6 742,539 742.5,535.9 C743,531 745,526 746.3,521.9 C747.6,519 748.6,516.6 748.8,514.3 C749,510.6 746.6,508.6 746.3,505.4 C746,502 746.8,499 747.5,496.5 Z" fill="#fff" stroke="#1e1e1e" stroke-width="1.92" />
<path d="M756.4,490.2 L754.4,516 L751.3,541" fill="none" stroke="#1e1e1e" stroke-width="1.68" stroke-linejoin="round" stroke-linecap="round"/>
<path d="M758.4,489.6 L756.4,516 L753.4,541" fill="none" stroke="#1e1e1e" stroke-width="0.96" stroke-linejoin="round" stroke-linecap="round"/>
<path d="M765.3,487.6 L763.6,512 L761.5,535.9" fill="none" stroke="#1e1e1e" stroke-width="1.92" stroke-linejoin="round" stroke-linecap="round"/>
<path d="M750.6,493 L748.6,500" fill="none" stroke="#1e1e1e" stroke-width="0.96" stroke-linejoin="round" stroke-linecap="round"/>
<path d="M766.6,518 L769.1,514.3 L779.3,521.9 L774.2,530.8 Z" fill="#fff" stroke="#1e1e1e" stroke-width="1.20" />
<ellipse cx="776.4" cy="525.4" rx="3.3" ry="5.4" transform="rotate(-35 776.4 525.4)" fill="#fff" stroke="#1e1e1e" stroke-width="1.32"/>
<ellipse cx="775.4" cy="524.6" rx="3.3" ry="5.4" transform="rotate(-35 775.4 524.6)" fill="none" stroke="#1e1e1e" stroke-width="0.96"/>
<path d="M769.6,513.8 L766,519.4" fill="none" stroke="#1e1e1e" stroke-width="1.08" stroke-linejoin="round" stroke-linecap="round"/>
<path d="M713.3,543.5 L736.1,539.7 L741.2,542.2" fill="none" stroke="#1e1e1e" stroke-width="1.08" stroke-linejoin="round" stroke-linecap="round"/>
<path d="M716,548 L729,556" fill="none" stroke="#1e1e1e" stroke-width="0.96" stroke-linejoin="round" stroke-linecap="round"/>
<path d="M731,551.1 L736.1,547.6 L744.6,555 L738,562.4 Z" fill="#fff" stroke="#1e1e1e" stroke-width="1.20" />
<ellipse cx="741.4" cy="558.4" rx="3.6" ry="5.4" transform="rotate(-40 741.4 558.4)" fill="#fff" stroke="#1e1e1e" stroke-width="1.32"/>
<ellipse cx="740.4" cy="557.6" rx="3.6" ry="5.4" transform="rotate(-40 740.4 557.6)" fill="none" stroke="#1e1e1e" stroke-width="0.96"/>
<path d="M731.6,550.6 L728,556.6" fill="none" stroke="#1e1e1e" stroke-width="1.08" stroke-linejoin="round" stroke-linecap="round"/>
<path d="M746.3,543.5 L745.6,550" fill="none" stroke="#1e1e1e" stroke-width="1.08" stroke-linejoin="round" stroke-linecap="round"/>
<path d="M684.4,482.6 L681.4,495.6 L682.6,509.6" fill="none" stroke="#1e1e1e" stroke-width="1.08" stroke-linejoin="round" stroke-linecap="round"/>
<path d="M678.4,515.4 L678.6,520.2 L681,525.6 L704,540 L713.4,541.2" fill="none" stroke="#1e1e1e" stroke-width="1.08" stroke-linejoin="round" stroke-linecap="round"/>
<path d="M686,464 L691,459.6 L708,457.2" fill="none" stroke="#1e1e1e" stroke-width="0.96" stroke-linejoin="round" stroke-linecap="round"/>
<path d="M686.6,484.6 L715.4,498.4 L735,498.4" fill="none" stroke="#1e1e1e" stroke-width="0.96" stroke-linejoin="round" stroke-linecap="round"/>
<path d="M682.4,513.8 L712,529 L731.6,529" fill="none" stroke="#1e1e1e" stroke-width="0.96" stroke-linejoin="round" stroke-linecap="round"/>
<path d="M680.6,521 L709.6,535.6 L737,535.6" fill="none" stroke="#1e1e1e" stroke-width="0.96" stroke-linejoin="round" stroke-linecap="round"/>
<path d="M722,478 L736.6,479.6 L741,484 L752,482.6" fill="none" stroke="#1e1e1e" stroke-width="1.08" stroke-linejoin="round" stroke-linecap="round"/>
<path d="M714,545.6 L727.4,553.6" fill="none" stroke="#1e1e1e" stroke-width="0.96" stroke-linejoin="round" stroke-linecap="round"/>
<path d="M757.6,447.8 L764,460.6" fill="none" stroke="#1e1e1e" stroke-width="0.96" stroke-linejoin="round" stroke-linecap="round"/>
<path d="M390.8,548.6 L402.6,557 L416,564.8 L427,567.8" fill="none" stroke="#1e1e1e" stroke-width="1.08" stroke-linejoin="round" stroke-linecap="round"/>
<path d="M386.2,511.4 L388.8,519.4 L393.4,522.4" fill="none" stroke="#1e1e1e" stroke-width="0.96" stroke-linejoin="round" stroke-linecap="round"/>
<path d="M394,530.4 L398,535 L424.6,548.6" fill="none" stroke="#1e1e1e" stroke-width="0.96" stroke-linejoin="round" stroke-linecap="round"/>
<path d="M397.6,511 L428.6,528.6 L439,530.2" fill="none" stroke="#1e1e1e" stroke-width="0.96" stroke-linejoin="round" stroke-linecap="round"/>
<path d="M402.4,488.6 L428.4,505.6" fill="none" stroke="#1e1e1e" stroke-width="0.96" stroke-linejoin="round" stroke-linecap="round"/>
<path d="M463.4,508 L460.6,520 L464,528 L464.2,545.4" fill="none" stroke="#1e1e1e" stroke-width="0.96" stroke-linejoin="round" stroke-linecap="round"/>
<path d="M327.6,531 C327,524 329,519 330.6,513" fill="none" stroke="#1e1e1e" stroke-width="7.720000000000001" stroke-linecap="butt" stroke-linejoin="round"/>
<path d="M327.6,531 C327,524 329,519 330.6,513" fill="none" stroke="#fff" stroke-width="5.08" stroke-linecap="butt" stroke-linejoin="round"/>
<path d="M335.36,512.85 L330.16,491.35 L320.64,493.65 L325.84,515.15 Z" fill="#fff" stroke="#1e1e1e" stroke-width="1.32" stroke-linejoin="round"/>
<path d="M325.80,494.00 C324.53,488.35 320.37,470.13 318.20,460.10 C316.03,450.07 314.57,442.82 312.80,433.80 C311.03,424.78 308.58,412.07 307.60,406.00 C306.62,399.93 306.07,399.83 306.90,397.40 C307.73,394.97 309.78,392.65 312.60,391.40 C315.42,390.15 319.47,389.57 323.80,389.90 C328.13,390.23 332.65,391.08 338.60,393.40 C344.55,395.72 352.10,399.37 359.50,403.80 C366.90,408.23 377.58,416.20 383.00,420.00 C388.42,423.80 388.92,424.10 392.00,426.60 C395.08,429.10 398.33,431.87 401.50,435.00 C404.67,438.13 407.82,441.48 411.00,445.40 C414.18,449.32 417.90,454.12 420.60,458.50 C423.30,462.88 425.30,467.12 427.20,471.70 C429.10,476.28 430.20,478.13 432.00,486.00 C433.80,493.87 435.58,507.77 438.00,518.90 C440.42,530.03 443.97,543.12 446.50,552.80 C449.03,562.48 452.08,572.97 453.20,577.00" fill="none" stroke="#1e1e1e" stroke-width="9.12" stroke-linecap="butt" stroke-linejoin="round"/>
<path d="M325.80,494.00 C324.53,488.35 320.37,470.13 318.20,460.10 C316.03,450.07 314.57,442.82 312.80,433.80 C311.03,424.78 308.58,412.07 307.60,406.00 C306.62,399.93 306.07,399.83 306.90,397.40 C307.73,394.97 309.78,392.65 312.60,391.40 C315.42,390.15 319.47,389.57 323.80,389.90 C328.13,390.23 332.65,391.08 338.60,393.40 C344.55,395.72 352.10,399.37 359.50,403.80 C366.90,408.23 377.58,416.20 383.00,420.00 C388.42,423.80 388.92,424.10 392.00,426.60 C395.08,429.10 398.33,431.87 401.50,435.00 C404.67,438.13 407.82,441.48 411.00,445.40 C414.18,449.32 417.90,454.12 420.60,458.50 C423.30,462.88 425.30,467.12 427.20,471.70 C429.10,476.28 430.20,478.13 432.00,486.00 C433.80,493.87 435.58,507.77 438.00,518.90 C440.42,530.03 443.97,543.12 446.50,552.80 C449.03,562.48 452.08,572.97 453.20,577.00" fill="none" stroke="#fff" stroke-width="6.4799999999999995" stroke-linecap="butt" stroke-linejoin="round"/>
<path d="M463,595.4 C464.6,603 465.2,610 464.6,618" fill="none" stroke="#1e1e1e" stroke-width="7.92" stroke-linecap="butt" stroke-linejoin="round"/>
<path d="M463,595.4 C464.6,603 465.2,610 464.6,618" fill="none" stroke="#fff" stroke-width="5.279999999999999" stroke-linecap="butt" stroke-linejoin="round"/>
<path d="M459.8,599.4 L466.8,597.8" fill="none" stroke="#1e1e1e" stroke-width="1.08" />
<path d="M460.4,602.2 L467.4,600.6" fill="none" stroke="#1e1e1e" stroke-width="1.08" />
<path d="M452.12,576.74 L458.42,596.84 L467.58,593.96 L461.28,573.86 Z" fill="#fff" stroke="#1e1e1e" stroke-width="1.32" stroke-linejoin="round"/>
<ellipse cx="348.6" cy="15.6" rx="6.6" ry="8.3" transform="rotate(50 348.6 15.6)" fill="#fff" stroke="#1e1e1e" stroke-width="2.40"/>
<ellipse cx="349.4" cy="16.4" rx="4.8" ry="6.4" transform="rotate(50 349.4 16.4)" fill="#fff" stroke="#1e1e1e" stroke-width="1.32"/>
<ellipse cx="350.6" cy="17.8" rx="3.4" ry="5.2" transform="rotate(50 350.6 17.8)" fill="#fff" stroke="#1e1e1e" stroke-width="2.16"/>
<path d="M348.57147567605193,23.415960432116368 L354.87147567605194,30.915960432116368 L362.52852432394803,24.48403956788363 L356.228524323948,16.98403956788363" fill="#fff" stroke="#1e1e1e" stroke-width="1.44" stroke-linejoin="round"/>
<path d="M349.6,22.4 C347.6,19.6 349.4,16.2 353,14.6" fill="none" stroke="#1e1e1e" stroke-width="1.20" />
<ellipse cx="358.7" cy="27.7" rx="3.9" ry="5.0" transform="rotate(50 358.7 27.7)" fill="#fff" stroke="#1e1e1e" stroke-width="1.56"/>
<ellipse cx="358.9" cy="27.9" rx="2.2" ry="3.0" transform="rotate(50 358.9 27.9)" fill="none" stroke="#1e1e1e" stroke-width="1.32"/>
<ellipse cx="359" cy="28" rx="0.8" ry="1.1" transform="rotate(50 359 28)" fill="none" stroke="#1e1e1e" stroke-width="1.08"/>
<path d="M342.6,11.8 l-1.3,-1.5 M344.6,9.2 l-1.1,-1.7 M347.4,7.6 l-0.5,-1.8 M350.6,7.2 l0.3,-1.7" fill="none" stroke="#1e1e1e" stroke-width="1.32" />
<ellipse cx="377" cy="48.6" rx="6.2" ry="7" transform="rotate(50 377 48.6)" fill="#fff" stroke="#1e1e1e" stroke-width="1.62"/>
<ellipse cx="377.5" cy="48.9" rx="5.0" ry="5.8" transform="rotate(50 377.5 48.9)" fill="none" stroke="#1e1e1e" stroke-width="0.90"/>
<ellipse cx="377.6" cy="49.0" rx="3.4720000000000004" ry="3.9200000000000004" transform="rotate(50 377.6 49.0)" fill="none" stroke="#1e1e1e" stroke-width="1.32"/>
<ellipse cx="418.3" cy="100.8" rx="5.4" ry="6.8" transform="rotate(55 418.3 100.8)" fill="#fff" stroke="#1e1e1e" stroke-width="1.62"/>
<ellipse cx="418.8" cy="101.1" rx="4.2" ry="5.6" transform="rotate(55 418.8 101.1)" fill="none" stroke="#1e1e1e" stroke-width="0.90"/>
<ellipse cx="418.90000000000003" cy="101.2" rx="3.0240000000000005" ry="3.8080000000000003" transform="rotate(55 418.90000000000003 101.2)" fill="none" stroke="#1e1e1e" stroke-width="1.32"/>
<path d="M394.2,62.5 C394,58 396,55.8 399.5,55.8 C403,55.8 405.2,58 405,62.5 Z" fill="#fff" stroke="#1e1e1e" stroke-width="1.56" />
<path d="M395.5,61.5 C396,59 397.6,58 399.6,58 C401.6,58 403.2,59 403.8,61.5" fill="none" stroke="#1e1e1e" stroke-width="1.08" />
<path d="M401,64 C404.5,66 406.5,72 407.2,78.5" fill="none" stroke="#1e1e1e" stroke-width="1.20" />
<ellipse cx="404.2" cy="79.2" rx="3.0" ry="3.6" transform="rotate(40 404.2 79.2)" fill="#fff" stroke="#1e1e1e" stroke-width="1.20"/>
<ellipse cx="401.6" cy="76.6" rx="3.2" ry="3.8" transform="rotate(40 401.6 76.6)" fill="#fff" stroke="#1e1e1e" stroke-width="1.20"/>
<ellipse cx="395.4" cy="71.2" rx="7.0" ry="7.3" transform="rotate(0 395.4 71.2)" fill="#fff" stroke="#1e1e1e" stroke-width="1.44"/>
<ellipse cx="397.6" cy="73.8" rx="4.3" ry="5.0" transform="rotate(40 397.6 73.8)" fill="#fff" stroke="#1e1e1e" stroke-width="1.56"/>
<ellipse cx="397.8" cy="74" rx="2.9" ry="3.5" transform="rotate(40 397.8 74)" fill="none" stroke="#1e1e1e" stroke-width="1.20"/>
<ellipse cx="398" cy="74.2" rx="1.3" ry="1.7" transform="rotate(40 398 74.2)" fill="none" stroke="#1e1e1e" stroke-width="1.20"/>
<path d="M349.1,186.6 L353.3,174 L367,175.6 L374.6,186.6 L369.4,200.3 L356.5,197.5 Z" fill="#fff" stroke="#1e1e1e" stroke-width="1.44" stroke-linejoin="round"/>
<path d="M349.1,186.6 L363.6,188.4 L367,175.6" fill="none" stroke="#1e1e1e" stroke-width="1.20" />
<path d="M363.6,188.4 L369.4,200.3" fill="none" stroke="#1e1e1e" stroke-width="1.20" />
<ellipse cx="356.8" cy="190.6" rx="3.0" ry="1.7" transform="rotate(14 356.8 190.6)" fill="#fff" stroke="#1e1e1e" stroke-width="1.20"/>
<path d="M354.2,191.0 q2.6,2.2 5.4,0.6" fill="none" stroke="#1e1e1e" stroke-width="0.96" />
<ellipse cx="370.8" cy="190.2" rx="1.1" ry="1.9" transform="rotate(12 370.8 190.2)" fill="#1e1e1e" stroke="#1e1e1e" stroke-width="1.20"/>
<path d="M380.6,207 L385.5,194.3 L398.8,195 L405.8,206.2 L401,220.2 L389,217.4 Z" fill="#fff" stroke="#1e1e1e" stroke-width="1.44" stroke-linejoin="round"/>
<path d="M380.6,207 L395.3,208.3 L398.8,195" fill="none" stroke="#1e1e1e" stroke-width="1.20" />
<path d="M395.3,208.3 L401,220.2" fill="none" stroke="#1e1e1e" stroke-width="1.20" />
<ellipse cx="388.8" cy="211.2" rx="3.0" ry="1.7" transform="rotate(14 388.8 211.2)" fill="#fff" stroke="#1e1e1e" stroke-width="1.20"/>
<path d="M386.2,211.6 q2.6,2.2 5.4,0.6" fill="none" stroke="#1e1e1e" stroke-width="0.96" />
<ellipse cx="402.3" cy="210.5" rx="1.1" ry="1.9" transform="rotate(12 402.3 210.5)" fill="#1e1e1e" stroke="#1e1e1e" stroke-width="1.20"/>
<path d="M436.4,195.8 L426.59999999999997,194.7 C424.59999999999997,195.0 424.59999999999997,200.2 426.59999999999997,200.5 L436.4,202.2" fill="#fff" stroke="#1e1e1e" stroke-width="1.32" />
<ellipse cx="438.4" cy="199" rx="3.9" ry="6.5" transform="rotate(6 438.4 199)" fill="#fff" stroke="#1e1e1e" stroke-width="2.04"/>
<path d="M435.59999999999997,194.4 l1.6,-2.2 l2.6,-0.4 l2.2,1.8 M442.0,201.4 l-0.4,2.6 l-2,2" fill="none" stroke="#1e1e1e" stroke-width="1.44" />
<ellipse cx="439.7" cy="199.1" rx="2.1" ry="3.9" transform="rotate(6 439.7 199.1)" fill="#1a1a1a" stroke="#1e1e1e" stroke-width="1.20"/>
<path d="M436.79999999999995,195.4 q-1.4,3.6 0,7.4" fill="none" stroke="#1e1e1e" stroke-width="1.08" />
<path d="M467.8,215.8 L458.3,215.5 C456.3,215.8 456.3,221.0 458.3,221.3 L467.8,222.2" fill="#fff" stroke="#1e1e1e" stroke-width="1.32" />
<ellipse cx="469.8" cy="219" rx="3.9" ry="6.5" transform="rotate(6 469.8 219)" fill="#fff" stroke="#1e1e1e" stroke-width="2.04"/>
<path d="M467.0,214.4 l1.6,-2.2 l2.6,-0.4 l2.2,1.8 M473.40000000000003,221.4 l-0.4,2.6 l-2,2" fill="none" stroke="#1e1e1e" stroke-width="1.44" />
<ellipse cx="471.1" cy="219.1" rx="2.1" ry="3.9" transform="rotate(6 471.1 219.1)" fill="#1a1a1a" stroke="#1e1e1e" stroke-width="1.20"/>
<path d="M468.2,215.4 q-1.4,3.6 0,7.4" fill="none" stroke="#1e1e1e" stroke-width="1.08" />
<path d="M485.5,156 L497.5,151.7 L506,149 L509.2,149.4 L513.8,153.6 L517.3,158.3 L518.9,164.5 L515.4,166 L515,170 L513,173.8 C511.6,177 510.4,178.6 509.2,179.3 C507.6,180.2 505.8,180.2 504.5,179.6 C502.6,178.6 501.4,177.4 500.6,176.1 L497.5,170.7 C496.4,172.6 495,173.6 493.6,173.8 C492.2,173.8 490.8,173.2 489.8,172.3 C488.2,170.8 487.2,169.4 486.6,167.6 C485.8,165.6 485.5,163.6 485.5,161.4 Z" fill="#fff" stroke="#1e1e1e" stroke-width="1.68" />
<path d="M489.4,158.3 L498.3,161.4 L498.3,169.2 L490.1,166 Z" fill="none" stroke="#1e1e1e" stroke-width="1.44" />
<path d="M491.6,160.8 L496.6,162.4 L496.4,167.2 L491.8,165.6 Z" fill="none" stroke="#1e1e1e" stroke-width="1.08" />
<path d="M489.4,158.3 L488,159.4 L488.6,166.6 L490.1,166" fill="none" stroke="#1e1e1e" stroke-width="1.08" />
<path d="M497.5,154.4 L506.8,149.8 L512.3,152.9 L504.5,157.5 Z" fill="none" stroke="#1e1e1e" stroke-width="1.32" />
<path d="M497.5,154.4 L498.3,161.4 M504.5,157.5 L505,162 L515.4,157 M512.3,152.9 L515.8,156.6" fill="none" stroke="#1e1e1e" stroke-width="1.20" />
<path d="M499.8,160.6 L500.6,173.8 M501.6,161.6 L502.4,175" fill="none" stroke="#1e1e1e" stroke-width="1.20" />
<path d="M505,162 L505.4,166" fill="none" stroke="#1e1e1e" stroke-width="1.20" />
<path d="M515.2,163.4 C512.6,162.6 509.6,163.4 508.2,165.6 C506.4,168.4 507,172.6 510,174.4 C511.4,175.2 512.6,175 513.4,174.2" fill="none" stroke="#1e1e1e" stroke-width="1.44" />
<path d="M511.5,165.3 C508.6,165.8 507.6,169.6 509.4,172.4 C510.2,173.6 511.6,174 512.6,173.6" fill="none" stroke="#1e1e1e" stroke-width="1.08" />
<path d="M505.4,166 C503.6,168.8 503.4,173 505.4,176.4 C506.4,178 508,178.8 509.4,178.4" fill="none" stroke="#1e1e1e" stroke-width="1.20" />
<path d="M515.4,166 L518.9,164.5" fill="none" stroke="#1e1e1e" stroke-width="1.20" />
<path d="M423.1,294.7 L432.6,289 L446.6,310.6 L435.8,318.2 Z" fill="#fff" stroke="#1e1e1e" stroke-width="1.44" stroke-linejoin="round"/>
<path d="M425.2,295.4 L437.6,316.8" fill="none" stroke="#1e1e1e" stroke-width="1.08" />
<path d="M428.9,304.4 L440.9,297.4" fill="none" stroke="#1e1e1e" stroke-width="1.08" />
<ellipse cx="439.6" cy="310.8" rx="2.0" ry="1.3" transform="rotate(-30 439.6 310.8)" fill="#1e1e1e" stroke="#1e1e1e" stroke-width="1.20"/>
<path d="M423.4,290.4 L427.6,298 C429.4,300.6 433.6,298.4 432.4,295.4 L428.2,287.8" fill="#fff" stroke="#1e1e1e" stroke-width="1.20" />
<path d="M431.12,284.50 L421.12,266.00 L411.88,271.00 L421.88,289.50 Z" fill="#fff" stroke="#1e1e1e" stroke-width="1.32" stroke-linejoin="round"/>
<path d="M412.9,273.8 L422,268.9" fill="none" stroke="#1e1e1e" stroke-width="1.08" />
<path d="M251.05640845184232,568.2079969247251 L265.89640845184226,562.1679969247251 L262.5035915481577,553.8320030752749 L247.6635915481577,559.8720030752748" fill="#fff" stroke="#1e1e1e" stroke-width="1.32" stroke-linejoin="round"/>
<path d="M262.5,553.83 C265.59,554.52 267.63,559.52 265.9,562.17" fill="#fff" stroke="#1e1e1e" stroke-width="1.32" />
<path d="M249.7,559.04 Q253.44,562.38 253.1,567.38" fill="none" stroke="#1e1e1e" stroke-width="1.08" />
<path d="M251.73,558.21 Q255.47,561.55 255.13,566.55" fill="none" stroke="#1e1e1e" stroke-width="1.08" />
<ellipse cx="248.62" cy="564.34" rx="3.3" ry="8.0" transform="rotate(-22.139576264999043 248.62 564.34)" fill="#fff" stroke="#1e1e1e" stroke-width="1.44"/>
<ellipse cx="247.51" cy="564.79" rx="3.3" ry="8.0" transform="rotate(-22.139576264999043 247.51 564.79)" fill="#fff" stroke="#1e1e1e" stroke-width="1.20"/>
<path d="M249.71,567.67 L247.55,572.33 L242.75,570.51 L240.11,564.02 L242.27,559.36 L247.07,561.19 Z" fill="#fff" stroke="#1e1e1e" stroke-width="1.32" stroke-linejoin="round"/>
<path d="M248.04,568.35 L245.88,573.01 L241.08,571.18 L238.44,564.7 L240.61,560.04 L245.41,561.87 Z" fill="#fff" stroke="#1e1e1e" stroke-width="1.32" stroke-linejoin="round"/>
<ellipse cx="243.8" cy="566.3" rx="4.2" ry="5.3" transform="rotate(-22.139576264999043 243.8 566.3)" fill="#fff" stroke="#1e1e1e" stroke-width="2.04"/>
<ellipse cx="243.34" cy="566.49" rx="3.0" ry="4.0" transform="rotate(-22.139576264999043 243.34 566.49)" fill="none" stroke="#1e1e1e" stroke-width="0.96"/>
<ellipse cx="294" cy="547" rx="5.6" ry="7.2" transform="rotate(-22 294 547)" fill="#fff" stroke="#1e1e1e" stroke-width="1.62"/>
<ellipse cx="294.5" cy="547.3" rx="4.3999999999999995" ry="6.0" transform="rotate(-22 294.5 547.3)" fill="none" stroke="#1e1e1e" stroke-width="0.90"/>
<ellipse cx="294.6" cy="547.4" rx="3.2479999999999998" ry="4.176" transform="rotate(-22 294.6 547.4)" fill="none" stroke="#1e1e1e" stroke-width="1.32"/>
<ellipse cx="362.4" cy="523.6" rx="5.6" ry="7.2" transform="rotate(-22 362.4 523.6)" fill="#fff" stroke="#1e1e1e" stroke-width="1.62"/>
<ellipse cx="362.9" cy="523.9" rx="4.3999999999999995" ry="6.0" transform="rotate(-22 362.9 523.9)" fill="none" stroke="#1e1e1e" stroke-width="0.90"/>
<ellipse cx="363.0" cy="524.0" rx="3.2479999999999998" ry="4.176" transform="rotate(-22 363.0 524.0)" fill="none" stroke="#1e1e1e" stroke-width="1.32"/>
<ellipse cx="328.2" cy="536.2" rx="7.8" ry="7.6" transform="rotate(0 328.2 536.2)" fill="#fff" stroke="#1e1e1e" stroke-width="1.44"/>
<ellipse cx="325.6" cy="537" rx="3.9" ry="4.8" transform="rotate(-20 325.6 537)" fill="#fff" stroke="#1e1e1e" stroke-width="1.44"/>
<ellipse cx="325.2" cy="537.2" rx="2.4" ry="3.2" transform="rotate(-20 325.2 537.2)" fill="none" stroke="#1e1e1e" stroke-width="1.08"/>
<ellipse cx="464.2" cy="622" rx="7.4" ry="7.2" transform="rotate(0 464.2 622)" fill="#fff" stroke="#1e1e1e" stroke-width="1.44"/>
<ellipse cx="461.8" cy="622.8" rx="3.7" ry="4.6" transform="rotate(-20 461.8 622.8)" fill="#fff" stroke="#1e1e1e" stroke-width="1.44"/>
<ellipse cx="461.4" cy="623" rx="2.2" ry="3.0" transform="rotate(-20 461.4 623)" fill="none" stroke="#1e1e1e" stroke-width="1.08"/>
<ellipse cx="408.4" cy="644" rx="5.4" ry="7.0" transform="rotate(-22 408.4 644)" fill="#fff" stroke="#1e1e1e" stroke-width="1.62"/>
<ellipse cx="408.9" cy="644.3" rx="4.2" ry="5.8" transform="rotate(-22 408.9 644.3)" fill="none" stroke="#1e1e1e" stroke-width="0.90"/>
<ellipse cx="409.0" cy="644.4" rx="3.132" ry="4.06" transform="rotate(-22 409.0 644.4)" fill="none" stroke="#1e1e1e" stroke-width="1.32"/>
<ellipse cx="525.6" cy="596.6" rx="5.4" ry="7.0" transform="rotate(-22 525.6 596.6)" fill="#fff" stroke="#1e1e1e" stroke-width="1.62"/>
<ellipse cx="526.1" cy="596.9" rx="4.2" ry="5.8" transform="rotate(-22 526.1 596.9)" fill="none" stroke="#1e1e1e" stroke-width="0.90"/>
<ellipse cx="526.2" cy="597.0" rx="3.132" ry="4.06" transform="rotate(-22 526.2 597.0)" fill="none" stroke="#1e1e1e" stroke-width="1.32"/>
<ellipse cx="646" cy="548" rx="5.4" ry="7.0" transform="rotate(-22 646 548)" fill="#fff" stroke="#1e1e1e" stroke-width="1.62"/>
<ellipse cx="646.5" cy="548.3" rx="4.2" ry="5.8" transform="rotate(-22 646.5 548.3)" fill="none" stroke="#1e1e1e" stroke-width="0.90"/>
<ellipse cx="646.6" cy="548.4" rx="3.132" ry="4.06" transform="rotate(-22 646.6 548.4)" fill="none" stroke="#1e1e1e" stroke-width="1.32"/>
<ellipse cx="587.4" cy="573.2" rx="7.4" ry="7.2" transform="rotate(0 587.4 573.2)" fill="#fff" stroke="#1e1e1e" stroke-width="1.44"/>
<ellipse cx="584.6" cy="573.6" rx="3.7" ry="4.6" transform="rotate(-20 584.6 573.6)" fill="#fff" stroke="#1e1e1e" stroke-width="1.44"/>
<ellipse cx="584.2" cy="573.8" rx="2.2" ry="3.0" transform="rotate(-20 584.2 573.8)" fill="none" stroke="#1e1e1e" stroke-width="1.08"/>
<path d="M331.5928695201983,678.9165973029807 L354.98286952019834,670.0465973029807 L352.2171304798017,662.7534026970193 L328.82713047980167,671.6234026970193" fill="#fff" stroke="#1e1e1e" stroke-width="1.32" stroke-linejoin="round"/>
<path d="M352.22,662.75 C355.2,663.29 356.86,667.67 354.98,670.05" fill="#fff" stroke="#1e1e1e" stroke-width="1.32" />
<path d="M330.89,670.84 Q334.33,673.71 333.65,678.14" fill="none" stroke="#1e1e1e" stroke-width="1.08" />
<path d="M332.94,670.06 Q336.38,672.93 335.7,677.36" fill="none" stroke="#1e1e1e" stroke-width="1.08" />
<ellipse cx="329.46" cy="675.56" rx="3.3" ry="7.4" transform="rotate(-20.77225468204583 329.46 675.56)" fill="#fff" stroke="#1e1e1e" stroke-width="1.44"/>
<ellipse cx="328.34" cy="675.98" rx="3.3" ry="7.4" transform="rotate(-20.77225468204583 328.34 675.98)" fill="#fff" stroke="#1e1e1e" stroke-width="1.20"/>
<path d="M330.07,678.75 L327.99,682.96 L323.64,681.19 L321.37,675.2 L323.45,670.99 L327.8,672.76 Z" fill="#fff" stroke="#1e1e1e" stroke-width="1.32" stroke-linejoin="round"/>
<path d="M328.39,679.39 L326.31,683.6 L321.96,681.82 L319.69,675.84 L321.77,671.63 L326.12,673.4 Z" fill="#fff" stroke="#1e1e1e" stroke-width="1.32" stroke-linejoin="round"/>
<ellipse cx="324.6" cy="677.4" rx="3.8" ry="4.8" transform="rotate(-20.77225468204583 324.6 677.4)" fill="#fff" stroke="#1e1e1e" stroke-width="2.04"/>
<ellipse cx="324.13" cy="677.58" rx="2.5999999999999996" ry="3.5" transform="rotate(-20.77225468204583 324.13 677.58)" fill="none" stroke="#1e1e1e" stroke-width="0.96"/>
<ellipse cx="343.4" cy="669.4" rx="1.6" ry="1.2" transform="rotate(-20 343.4 669.4)" fill="none" stroke="#1e1e1e" stroke-width="1.08"/>
<path d="M243.33,385.79 L239.02,383.85 L236.28,385.38 L233.25,390.56 L233.27,393.7 L237.08,396.5 Z" fill="#fff" stroke="#1e1e1e" stroke-width="1.32" stroke-linejoin="round"/>
<path d="M236.25,385.82 L241.08,388.65" fill="none" stroke="#1e1e1e" stroke-width="1.08" />
<path d="M233.63,390.31 L238.46,393.14" fill="none" stroke="#1e1e1e" stroke-width="1.08" />
<ellipse cx="240.12" cy="391.09" rx="3.0" ry="7.8" transform="rotate(30.26911322073688 240.12 391.09)" fill="#fff" stroke="#1e1e1e" stroke-width="1.32"/>
<path d="M239.43334532966952,395.4410363558711 L267.53334532966954,411.84103635587115 L271.6666546703305,404.75896364412887 L243.56665467033048,388.35896364412883" fill="#fff" stroke="#1e1e1e" stroke-width="1.32" stroke-linejoin="round"/>
<ellipse cx="269.6" cy="408.3" rx="1.7219999999999998" ry="4.1" transform="rotate(30.26911322073688 269.6 408.3)" fill="#fff" stroke="#1e1e1e" stroke-width="1.32"/>
<ellipse cx="241.5" cy="391.9" rx="3.0" ry="7.8" transform="rotate(30.26911322073688 241.5 391.9)" fill="#fff" stroke="#1e1e1e" stroke-width="1.44"/>
<ellipse cx="242.54" cy="392.5" rx="2.4" ry="5.9" transform="rotate(30.26911322073688 242.54 392.5)" fill="#fff" stroke="#1e1e1e" stroke-width="1.08"/>
<path d="M246.5,390.07 L271.67,404.76 L267.53,411.84 L241.33,396.55" fill="#fff" stroke="#1e1e1e" stroke-width="1.32" stroke-linejoin="round"/>
<ellipse cx="269.6" cy="408.3" rx="1.7219999999999998" ry="4.1" transform="rotate(30.26911322073688 269.6 408.3)" fill="#fff" stroke="#1e1e1e" stroke-width="1.32"/>
<path d="M277.88,414.7 L273.58,412.73 L270.83,414.24 L267.76,419.39 L267.76,422.53 L271.54,425.36 Z" fill="#fff" stroke="#1e1e1e" stroke-width="1.32" stroke-linejoin="round"/>
<path d="M270.79,414.68 L275.61,417.54" fill="none" stroke="#1e1e1e" stroke-width="1.08" />
<path d="M268.14,419.15 L272.95,422.01" fill="none" stroke="#1e1e1e" stroke-width="1.08" />
<ellipse cx="274.62" cy="419.98" rx="3.0" ry="7.8" transform="rotate(30.718904264029124 274.62 419.98)" fill="#fff" stroke="#1e1e1e" stroke-width="1.32"/>
<path d="M273.90561097610276,424.32470347924175 L301.5056109761028,440.7247034792417 L305.69438902389726,433.67529652075825 L278.09438902389724,417.2752965207583" fill="#fff" stroke="#1e1e1e" stroke-width="1.32" stroke-linejoin="round"/>
<ellipse cx="303.6" cy="437.2" rx="1.7219999999999998" ry="4.1" transform="rotate(30.718904264029124 303.6 437.2)" fill="#fff" stroke="#1e1e1e" stroke-width="1.32"/>
<ellipse cx="276" cy="420.8" rx="3.0" ry="7.8" transform="rotate(30.718904264029124 276 420.8)" fill="#fff" stroke="#1e1e1e" stroke-width="1.44"/>
<ellipse cx="277.03" cy="421.41" rx="2.4" ry="5.9" transform="rotate(30.718904264029124 277.03 421.41)" fill="#fff" stroke="#1e1e1e" stroke-width="1.08"/>
<path d="M281.02,419.01 L305.69,433.68 L301.51,440.72 L275.8,425.45" fill="#fff" stroke="#1e1e1e" stroke-width="1.32" stroke-linejoin="round"/>
<ellipse cx="303.6" cy="437.2" rx="1.7219999999999998" ry="4.1" transform="rotate(30.718904264029124 303.6 437.2)" fill="#fff" stroke="#1e1e1e" stroke-width="1.32"/>
<path d="M876.4867209260266,523.7569834736488 L847.8067209260266,508.2569834736488 L844.1932790739734,514.9430165263512 L872.8732790739733,530.4430165263512" fill="#fff" stroke="#1e1e1e" stroke-width="1.32" stroke-linejoin="round"/>
<path d="M844.19,514.94 C842.62,512.8 845.15,508.12 847.81,508.26" fill="#fff" stroke="#1e1e1e" stroke-width="1.32" />
<ellipse cx="874.33" cy="526.91" rx="3.2" ry="8.0" transform="rotate(-151.61442448912646 874.33 526.91)" fill="#fff" stroke="#1e1e1e" stroke-width="1.44"/>
<ellipse cx="875.56" cy="527.57" rx="3.2" ry="8.0" transform="rotate(-151.61442448912646 875.56 527.57)" fill="#fff" stroke="#1e1e1e" stroke-width="1.20"/>
<path d="M876.09,524.22 L880.54,522.99 L881.94,527.39 L878.9,533.02 L874.45,534.25 L873.05,529.85 Z" fill="#fff" stroke="#1e1e1e" stroke-width="1.32" stroke-linejoin="round"/>
<path d="M878.23,525.45 L882.59,524.24 L883.97,528.55 L880.98,534.07 L876.63,535.28 L875.25,530.97 Z" fill="#fff" stroke="#1e1e1e" stroke-width="1.32" stroke-linejoin="round"/>
<ellipse cx="880.14" cy="530.05" rx="2.5" ry="4.3" transform="rotate(-151.61442448912646 880.14 530.05)" fill="#fff" stroke="#1e1e1e" stroke-width="1.08"/>
<path d="M909.1394741464021,551.9348932551393 L882.6394741464021,537.2748932551393 L878.9605258535978,543.9251067448607 L905.4605258535978,558.5851067448607" fill="#fff" stroke="#1e1e1e" stroke-width="1.32" stroke-linejoin="round"/>
<path d="M878.96,543.92 C877.41,541.77 879.99,537.11 882.64,537.28" fill="#fff" stroke="#1e1e1e" stroke-width="1.32" />
<ellipse cx="906.95" cy="555.07" rx="3.2" ry="8.0" transform="rotate(-151.04278240121172 906.95 555.07)" fill="#fff" stroke="#1e1e1e" stroke-width="1.44"/>
<ellipse cx="908.18" cy="555.75" rx="3.2" ry="8.0" transform="rotate(-151.04278240121172 908.18 555.75)" fill="#fff" stroke="#1e1e1e" stroke-width="1.20"/>
<path d="M908.74,552.4 L913.2,551.21 L914.56,555.62 L911.46,561.22 L907.0,562.41 L905.64,558.0 Z" fill="#fff" stroke="#1e1e1e" stroke-width="1.32" stroke-linejoin="round"/>
<path d="M910.87,553.65 L915.24,552.49 L916.57,556.81 L913.53,562.3 L909.16,563.46 L907.83,559.14 Z" fill="#fff" stroke="#1e1e1e" stroke-width="1.32" stroke-linejoin="round"/>
<ellipse cx="912.72" cy="558.27" rx="2.5" ry="4.3" transform="rotate(-151.04278240121172 912.72 558.27)" fill="#fff" stroke="#1e1e1e" stroke-width="1.08"/>
<ellipse cx="21.6" cy="449.8" rx="7.6" ry="7.4" transform="rotate(0 21.6 449.8)" fill="#fff" stroke="#1e1e1e" stroke-width="1.56"/>
<path d="M15.4,446.4 L19.2,442.6 L25.2,442.6 L29.2,446.2 L28.6,453.4 L24.2,457 L18.4,456.6 L14.8,452.4 Z" fill="#fff" stroke="#1e1e1e" stroke-width="1.20" stroke-linejoin="round"/>
<ellipse cx="23.4" cy="449.8" rx="4.4" ry="5.2" transform="rotate(25 23.4 449.8)" fill="#fff" stroke="#1e1e1e" stroke-width="1.20"/>
<ellipse cx="23.6" cy="450" rx="2.0" ry="2.8" transform="rotate(25 23.6 450)" fill="none" stroke="#1e1e1e" stroke-width="1.20"/>
<path d="M142.40746567788523,452.75065284162775 L129.60746567788522,445.9506528416278 L126.79253432211475,451.24934715837225 L139.59253432211477,458.0493471583722" fill="#fff" stroke="#1e1e1e" stroke-width="1.32" stroke-linejoin="round"/>
<ellipse cx="128.2" cy="448.6" rx="1.5" ry="3.0" transform="rotate(-152.02052561152004 128.2 448.6)" fill="#fff" stroke="#1e1e1e" stroke-width="1.32"/>
<ellipse cx="144.4" cy="457.2" rx="4.6" ry="6.2" transform="rotate(24 144.4 457.2)" fill="#fff" stroke="#1e1e1e" stroke-width="1.80"/>
<ellipse cx="145" cy="457.6" rx="2.8" ry="4.2" transform="rotate(24 145 457.6)" fill="none" stroke="#1e1e1e" stroke-width="1.08"/>
<path d="M142.6,455 l4,4.6 M146.6,454.4 l-3,6" fill="none" stroke="#1e1e1e" stroke-width="1.08" />
<path d="M44.4,678.2 L52.0,670.6 L56.8,675.2 L49.8,683.2 Z" fill="#fff" stroke="#1e1e1e" stroke-width="1.56" stroke-linejoin="round"/>
<path d="M49.8,683.2 L53.2,688.2 L55.8,686.2 M56.8,675.2 L60.8,680.4" fill="none" stroke="#1e1e1e" stroke-width="1.44" />
<path d="M52.4,681.6 L58.4,678.6 L64.2,683.8000000000001 C65.4,686.0 64.0,688.4 61.4,688.8000000000001 L55.8,686.2 Z" fill="#fff" stroke="#1e1e1e" stroke-width="1.56" />
<path d="M50.6,682.2 l6.4,-6.6 M51.6,683.2 l6.2,-6.4 M49.6,681.0 l6.2,-6.4 M52.8,684.0 l5.6,-5.4" fill="none" stroke="#1e1e1e" stroke-width="1.20" />
<path d="M54.0,683.0 L58.0,680.8000000000001 L62.8,685.0 L60.8,687.2 Z" fill="#333" stroke="#1e1e1e" stroke-width="1.56" />
<path d="M56.8,682.8000000000001 l2,-1 l1.6,1.4 l-2,1.1 Z M60.2,685.6 l1.8,-0.9 l1,0.9 l-1.6,1 Z" fill="#fff" stroke="#1e1e1e" stroke-width="0.72" />
<path d="M105.6,677.8000000000001 L113.19999999999999,670.2 L118.0,674.8000000000001 L111.0,682.8000000000001 Z" fill="#fff" stroke="#1e1e1e" stroke-width="1.56" stroke-linejoin="round"/>
<path d="M111.0,682.8000000000001 L114.39999999999999,687.8000000000001 L117.0,685.8000000000001 M118.0,674.8000000000001 L122.0,680.0" fill="none" stroke="#1e1e1e" stroke-width="1.44" />
<path d="M113.6,681.2 L119.6,678.2 L125.39999999999999,683.4000000000001 C126.6,685.6 125.19999999999999,688.0 122.6,688.4000000000001 L117.0,685.8000000000001 Z" fill="#fff" stroke="#1e1e1e" stroke-width="1.56" />
<path d="M111.8,681.8000000000001 l6.4,-6.6 M112.8,682.8000000000001 l6.2,-6.4 M110.8,680.6 l6.2,-6.4 M114.0,683.6 l5.6,-5.4" fill="none" stroke="#1e1e1e" stroke-width="1.20" />
<path d="M115.19999999999999,682.6 L119.19999999999999,680.4000000000001 L124.0,684.6 L122.0,686.8000000000001 Z" fill="#333" stroke="#1e1e1e" stroke-width="1.56" />
<path d="M118.0,682.4000000000001 l2,-1 l1.6,1.4 l-2,1.1 Z M121.39999999999999,685.2 l1.8,-0.9 l1,0.9 l-1.6,1 Z" fill="#fff" stroke="#1e1e1e" stroke-width="0.72" />
<path transform="translate(258.0,4.5)" d="M0.9,5.9 L7.6,2 M8.5,0.2 V24.4 M0.2,24.4 H15" fill="none" stroke="#141414" stroke-width="2.0" stroke-linejoin="miter" stroke-linecap="butt"/>
<path transform="translate(299.0,75)" d="M1.6,6.2 C2.6,2.6 5,1 8,1 C11.8,1 14.3,3.4 14.3,7.3 C14.3,11.6 10.8,15.4 1.4,24.1 H15.6" fill="none" stroke="#141414" stroke-width="2.0" stroke-linejoin="miter" stroke-linecap="butt"/>
<path transform="translate(503.0,31)" d="M1.6,4.2 C3.2,2.1 5.4,1 8,1 C11.6,1 14,3.1 14,6.5 C14,9.9 11.2,12 6.4,12 C11.6,12 15,14.1 15,18.2 C15,22 12,24.4 8,24.4 C5,24.4 2.6,23.2 0.8,21" fill="none" stroke="#141414" stroke-width="2.0" stroke-linejoin="miter" stroke-linecap="butt"/>
<path transform="translate(539.6,208.4)" d="M12,25 V1.2 L0.6,17.6 H17" fill="none" stroke="#141414" stroke-width="2.0" stroke-linejoin="miter" stroke-linecap="butt"/>
<path transform="translate(229.0,297)" d="M14,1.2 H3.6 L2.6,11.6 C4.6,10 6.1,9.5 8,9.5 C12,9.5 15,12.2 15,17 C15,21.5 12,24.4 7.8,24.4 C5,24.4 2.6,23.2 0.8,21.3" fill="none" stroke="#141414" stroke-width="2.0" stroke-linejoin="miter" stroke-linecap="butt"/>
<path transform="translate(315.0,297)" d="M13.7,3.2 C12.4,1.8 10.9,1 9.1,1 C4.2,1 1.6,6 1.6,13.6 C1.6,20.4 4.1,24.4 8.6,24.4 C12.2,24.4 15,21.5 15,17.3 C15,12.9 12.5,10.4 8.8,10.4 C6,10.4 3.3,12.1 1.6,14.9" fill="none" stroke="#141414" stroke-width="2.0" stroke-linejoin="miter" stroke-linecap="butt"/>
<path transform="translate(418.6,357)" d="M0.9,1.2 H15.2 C10,8.2 8,15 7.4,25" fill="none" stroke="#141414" stroke-width="2.0" stroke-linejoin="miter" stroke-linecap="butt"/>
<path transform="translate(499.0,356.5)" d="M8,12 C4.6,10.6 2.7,8.9 2.7,6.3 C2.7,3.2 4.9,1 8.1,1 C11.3,1 13.4,3.2 13.4,6.4 C13.4,8.9 11.4,10.7 8,12 C3.8,13.6 1.3,15.4 1.3,18.6 C1.3,22 4.1,24.4 8,24.4 C12,24.4 14.8,22 14.8,18.6 C14.8,15.4 12.2,13.6 8,12 Z" fill="none" stroke="#141414" stroke-width="2.0" stroke-linejoin="miter" stroke-linecap="butt"/>
<path transform="translate(579.5,306.5)" d="M2.3,22.2 C3.6,23.6 5.1,24.4 6.9,24.4 C11.8,24.4 14.4,19.4 14.4,11.8 C14.4,5 11.9,1 7.4,1 C3.8,1 1,3.9 1,8.1 C1,12.5 3.5,15 7.2,15 C10,15 12.7,13.3 14.4,10.5" fill="none" stroke="#141414" stroke-width="2.0" stroke-linejoin="miter" stroke-linecap="butt"/>
<path transform="translate(709.0,346)" d="M0.9,5.9 L7.6,2 M8.5,0.2 V24.4 M0.2,24.4 H15" fill="none" stroke="#141414" stroke-width="2.0" stroke-linejoin="miter" stroke-linecap="butt"/>
<path transform="translate(727.5,346)" d="M8,1 C3.6,1 1.5,5.4 1.5,12.7 C1.5,20 3.6,24.4 8,24.4 C12.4,24.4 14.5,20 14.5,12.7 C14.5,5.4 12.4,1 8,1 Z" fill="none" stroke="#141414" stroke-width="2.0" stroke-linejoin="miter" stroke-linecap="butt"/>
<path transform="translate(808.5,324.5)" d="M8,12 C4.6,10.6 2.7,8.9 2.7,6.3 C2.7,3.2 4.9,1 8.1,1 C11.3,1 13.4,3.2 13.4,6.4 C13.4,8.9 11.4,10.7 8,12 C3.8,13.6 1.3,15.4 1.3,18.6 C1.3,22 4.1,24.4 8,24.4 C12,24.4 14.8,22 14.8,18.6 C14.8,15.4 12.2,13.6 8,12 Z" fill="none" stroke="#141414" stroke-width="2.0" stroke-linejoin="miter" stroke-linecap="butt"/>
<path transform="translate(2.0,356)" d="M0.9,5.9 L7.6,2 M8.5,0.2 V24.4 M0.2,24.4 H15" fill="none" stroke="#141414" stroke-width="2.0" stroke-linejoin="miter" stroke-linecap="butt"/>
<path transform="translate(20.5,356)" d="M12,25 V1.2 L0.6,17.6 H17" fill="none" stroke="#141414" stroke-width="2.0" stroke-linejoin="miter" stroke-linecap="butt"/>
<path transform="translate(124.0,365)" d="M0.9,5.9 L7.6,2 M8.5,0.2 V24.4 M0.2,24.4 H15" fill="none" stroke="#141414" stroke-width="2.0" stroke-linejoin="miter" stroke-linecap="butt"/>
<path transform="translate(142.5,365)" d="M1.6,4.2 C3.2,2.1 5.4,1 8,1 C11.6,1 14,3.1 14,6.5 C14,9.9 11.2,12 6.4,12 C11.6,12 15,14.1 15,18.2 C15,22 12,24.4 8,24.4 C5,24.4 2.6,23.2 0.8,21" fill="none" stroke="#141414" stroke-width="2.0" stroke-linejoin="miter" stroke-linecap="butt"/>
<path transform="translate(64.0,592)" d="M0.9,5.9 L7.6,2 M8.5,0.2 V24.4 M0.2,24.4 H15" fill="none" stroke="#141414" stroke-width="2.0" stroke-linejoin="miter" stroke-linecap="butt"/>
<path transform="translate(82.5,592)" d="M1.6,6.2 C2.6,2.6 5,1 8,1 C11.8,1 14.3,3.4 14.3,7.3 C14.3,11.6 10.8,15.4 1.4,24.1 H15.6" fill="none" stroke="#141414" stroke-width="2.0" stroke-linejoin="miter" stroke-linecap="butt"/>
<path transform="translate(155.4,554)" d="M0.9,5.9 L7.6,2 M8.5,0.2 V24.4 M0.2,24.4 H15" fill="none" stroke="#141414" stroke-width="2.0" stroke-linejoin="miter" stroke-linecap="butt"/>
<path transform="translate(219.5,665.5)" d="M0.9,5.9 L7.6,2 M8.5,0.2 V24.4 M0.2,24.4 H15" fill="none" stroke="#141414" stroke-width="2.0" stroke-linejoin="miter" stroke-linecap="butt"/>
<path transform="translate(238.0,665.5)" d="M0.9,5.9 L7.6,2 M8.5,0.2 V24.4 M0.2,24.4 H15" fill="none" stroke="#141414" stroke-width="2.0" stroke-linejoin="miter" stroke-linecap="butt"/>
<path transform="translate(982.5,545.5)" d="M14,1.2 H3.6 L2.6,11.6 C4.6,10 6.1,9.5 8,9.5 C12,9.5 15,12.2 15,17 C15,21.5 12,24.4 7.8,24.4 C5,24.4 2.6,23.2 0.8,21.3" fill="none" stroke="#141414" stroke-width="2.0" stroke-linejoin="miter" stroke-linecap="butt"/>
<path transform="translate(524.0,680)" d="M1.6,6.2 C2.6,2.6 5,1 8,1 C11.8,1 14.3,3.4 14.3,7.3 C14.3,11.6 10.8,15.4 1.4,24.1 H15.6" fill="none" stroke="#141414" stroke-width="2.0" stroke-linejoin="miter" stroke-linecap="butt"/>
<path d="M472.6,483 L513.6,469.3" fill="none" stroke="#1e1e1e" stroke-width="1.32" />
<path d="M770.8,498.2 L811,482.4" fill="none" stroke="#1e1e1e" stroke-width="1.32" />
<path d="M882.6,532.8 L906.5,552" fill="none" stroke="#1e1e1e" stroke-width="1.32" />
<path d="M881,535.2 L905.5,553.6" fill="none" stroke="#1e1e1e" stroke-width="1.32" />
<path d="M291.32,230.03 L486.22,98.12 L595.10,177.22 L511.77,226.11 L653.04,605.49 L571.02,634.85 L445.45,354.23 Z M284.68,229.57 L485.78,93.48 L602.10,177.98 L517.03,227.89 L659.36,608.11 L568.18,640.75 L440.55,354.78 Z " fill="#fdeb22" fill-rule="evenodd" stroke="none" style="mix-blend-mode:multiply"/>
</svg></body></html>
